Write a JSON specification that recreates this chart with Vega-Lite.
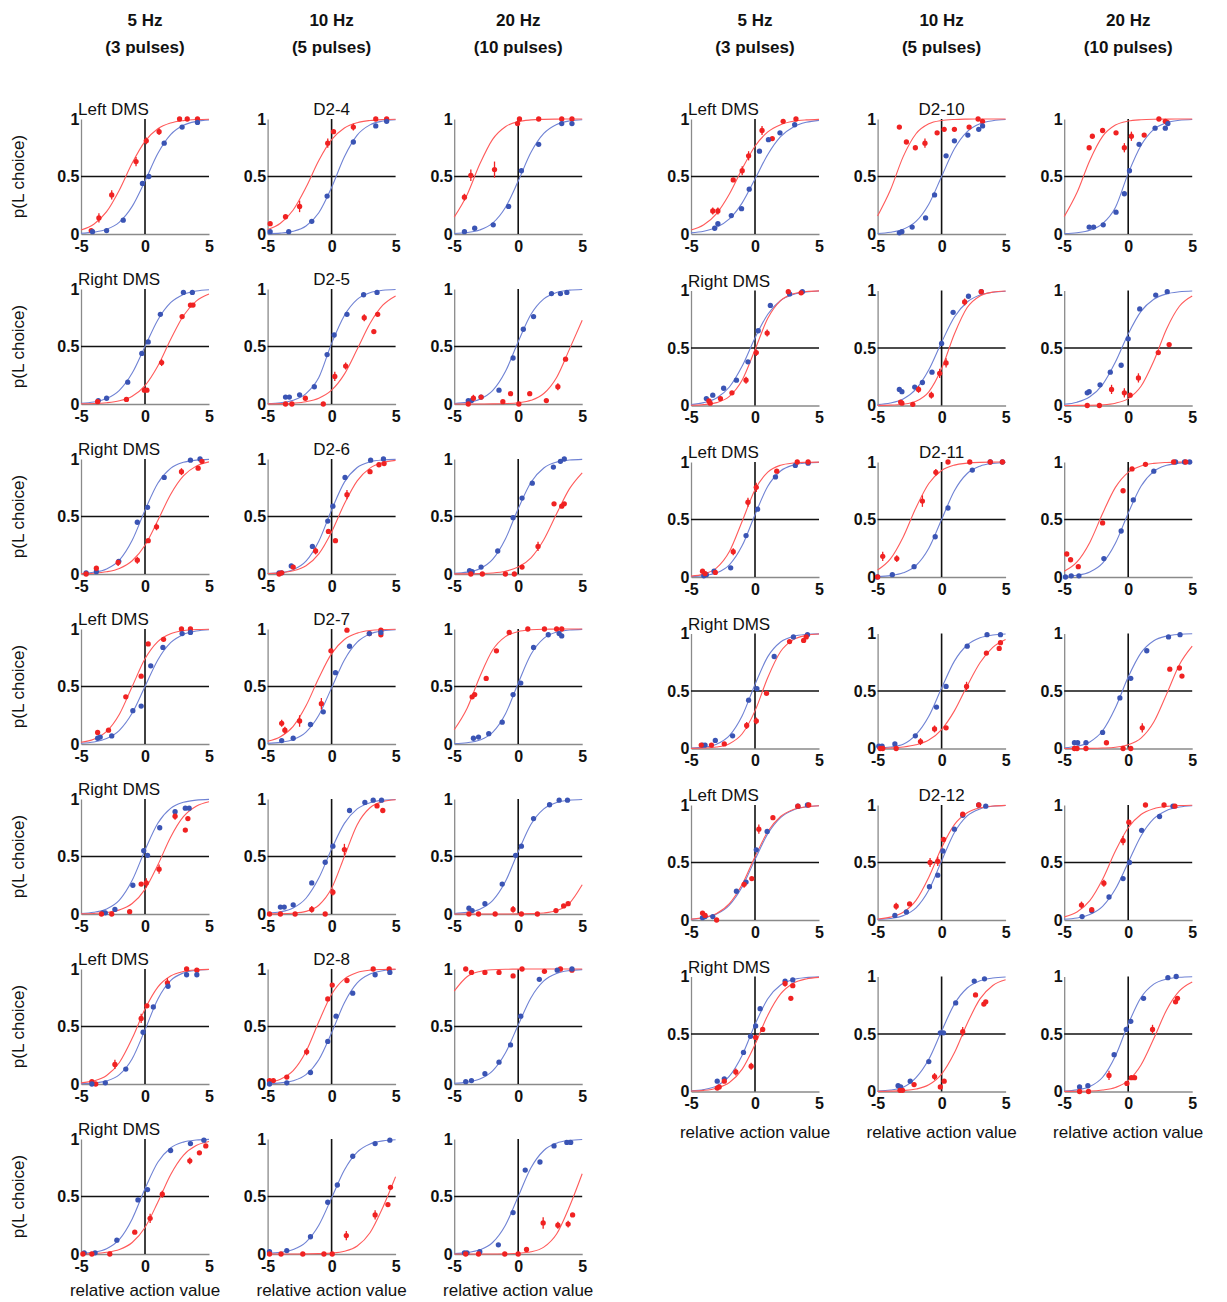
{
"$schema":"https://vega.github.io/schema/vega-lite/v6.json",
"background":"white",
"padding":{"left":10,"top":12,"right":4,"bottom":4},
"config":{
"view":{"stroke":null},
"font":"Liberation Sans",
"axis":{"grid":false,"domainColor":"#8a8a8a","domainWidth":1.3,"ticks":false,"labelFont":"Liberation Sans","labelFontSize":16,"labelFontWeight":"bold","labelColor":"#111","labelOverlap":false,"labelBound":false,"labelFlush":false,"labelPadding":2},
"header":{"labelFont":"Liberation Sans","titleFont":"Liberation Sans","labelColor":"#111"},
"text":{"font":"Liberation Sans","color":"#111"}
},
"datasets":{
"left":[
{"r":1,"c":1,"n":"Left DMS"},{"r":1,"c":2,"n":"D2-4"},{"r":2,"c":1,"n":"Right DMS"},{"r":2,"c":2,"n":"D2-5"},{"r":3,"c":1,"n":"Right DMS"},{"r":3,"c":2,"n":"D2-6"},{"r":4,"c":1,"n":"Left DMS"},{"r":4,"c":2,"n":"D2-7"},{"r":5,"c":1,"n":"Right DMS"},{"r":6,"c":1,"n":"Left DMS"},{"r":6,"c":2,"n":"D2-8"},{"r":7,"c":1,"n":"Right DMS"},
{"r":7,"c":1,"a":"relative action value"},{"r":7,"c":2,"a":"relative action value"},{"r":7,"c":3,"a":"relative action value"},
{"r":1,"c":1,"s":"b","x":-5,"f":0.006},{"r":1,"c":1,"s":"b","x":-4,"f":0.016},{"r":1,"c":1,"s":"b","x":-3,"f":0.041},{"r":1,"c":1,"s":"b","x":-2,"f":0.104},{"r":1,"c":1,"s":"b","x":-1,"f":0.24},{"r":1,"c":1,"s":"b","x":0,"f":0.46},{"r":1,"c":1,"s":"b","x":1,"f":0.7},{"r":1,"c":1,"s":"b","x":2,"f":0.864},{"r":1,"c":1,"s":"b","x":3,"f":0.945},{"r":1,"c":1,"s":"b","x":4,"f":0.979},{"r":1,"c":1,"s":"b","x":5,"f":0.992},
{"r":1,"c":1,"s":"r","x":-5,"f":0.035},{"r":1,"c":1,"s":"r","x":-4,"f":0.085},{"r":1,"c":1,"s":"r","x":-3,"f":0.194},{"r":1,"c":1,"s":"r","x":-2,"f":0.383},{"r":1,"c":1,"s":"r","x":-1,"f":0.617},{"r":1,"c":1,"s":"r","x":0,"f":0.806},{"r":1,"c":1,"s":"r","x":1,"f":0.915},{"r":1,"c":1,"s":"r","x":2,"f":0.965},{"r":1,"c":1,"s":"r","x":3,"f":0.986},{"r":1,"c":1,"s":"r","x":4,"f":0.995},{"r":1,"c":1,"s":"r","x":5,"f":0.998},
{"r":1,"c":1,"s":"r","x":-4.2,"y":0.03},{"r":1,"c":1,"s":"r","x":-3.6,"y":0.14,"e":0.04},{"r":1,"c":1,"s":"r","x":-2.6,"y":0.34,"e":0.04},{"r":1,"c":1,"s":"r","x":-0.7,"y":0.63,"e":0.04},{"r":1,"c":1,"s":"r","x":0.1,"y":0.81,"e":0.03},{"r":1,"c":1,"s":"r","x":1.1,"y":0.89,"e":0.03},{"r":1,"c":1,"s":"r","x":2.7,"y":1},{"r":1,"c":1,"s":"r","x":3.3,"y":1},{"r":1,"c":1,"s":"r","x":4.1,"y":1},
{"r":1,"c":1,"s":"b","x":-4.1,"y":0.02},{"r":1,"c":1,"s":"b","x":-3,"y":0.03},{"r":1,"c":1,"s":"b","x":-1.7,"y":0.12},{"r":1,"c":1,"s":"b","x":-0.2,"y":0.44},{"r":1,"c":1,"s":"b","x":0.3,"y":0.5},{"r":1,"c":1,"s":"b","x":1.5,"y":0.79},{"r":1,"c":1,"s":"b","x":2.9,"y":0.93},{"r":1,"c":1,"s":"b","x":4.1,"y":0.97},
{"r":1,"c":2,"s":"b","x":-5,"f":0.003},{"r":1,"c":2,"s":"b","x":-4,"f":0.008},{"r":1,"c":2,"s":"b","x":-3,"f":0.024},{"r":1,"c":2,"s":"b","x":-2,"f":0.07},{"r":1,"c":2,"s":"b","x":-1,"f":0.185},{"r":1,"c":2,"s":"b","x":0,"f":0.405},{"r":1,"c":2,"s":"b","x":1,"f":0.672},{"r":1,"c":2,"s":"b","x":2,"f":0.86},{"r":1,"c":2,"s":"b","x":3,"f":0.949},{"r":1,"c":2,"s":"b","x":4,"f":0.982},{"r":1,"c":2,"s":"b","x":5,"f":0.994},
{"r":1,"c":2,"s":"r","x":-5,"f":0.038},{"r":1,"c":2,"s":"r","x":-4,"f":0.093},{"r":1,"c":2,"s":"r","x":-3,"f":0.209},{"r":1,"c":2,"s":"r","x":-2,"f":0.406},{"r":1,"c":2,"s":"r","x":-1,"f":0.639},{"r":1,"c":2,"s":"r","x":0,"f":0.82},{"r":1,"c":2,"s":"r","x":1,"f":0.922},{"r":1,"c":2,"s":"r","x":2,"f":0.968},{"r":1,"c":2,"s":"r","x":3,"f":0.987},{"r":1,"c":2,"s":"r","x":4,"f":0.995},{"r":1,"c":2,"s":"r","x":5,"f":0.998},
{"r":1,"c":2,"s":"r","x":-4.8,"y":0.09},{"r":1,"c":2,"s":"r","x":-3.6,"y":0.15},{"r":1,"c":2,"s":"r","x":-2.5,"y":0.24,"e":0.05},{"r":1,"c":2,"s":"r","x":-0.3,"y":0.79,"e":0.04},{"r":1,"c":2,"s":"r","x":0.15,"y":0.89},{"r":1,"c":2,"s":"r","x":1.7,"y":0.93,"e":0.03},{"r":1,"c":2,"s":"r","x":3.45,"y":1},{"r":1,"c":2,"s":"r","x":4.3,"y":1},
{"r":1,"c":2,"s":"b","x":-4.8,"y":0.02},{"r":1,"c":2,"s":"b","x":-3.35,"y":0.02},{"r":1,"c":2,"s":"b","x":-1.55,"y":0.11},{"r":1,"c":2,"s":"b","x":-0.35,"y":0.33},{"r":1,"c":2,"s":"b","x":1.7,"y":0.8},{"r":1,"c":2,"s":"b","x":3.45,"y":0.94},{"r":1,"c":2,"s":"b","x":4.3,"y":0.98},
{"r":1,"c":3,"s":"b","x":-5,"f":0.004},{"r":1,"c":3,"s":"b","x":-4,"f":0.013},{"r":1,"c":3,"s":"b","x":-3,"f":0.035},{"r":1,"c":3,"s":"b","x":-2,"f":0.094},{"r":1,"c":3,"s":"b","x":-1,"f":0.23},{"r":1,"c":3,"s":"b","x":0,"f":0.46},{"r":1,"c":3,"s":"b","x":1,"f":0.71},{"r":1,"c":3,"s":"b","x":2,"f":0.874},{"r":1,"c":3,"s":"b","x":3,"f":0.952},{"r":1,"c":3,"s":"b","x":4,"f":0.983},{"r":1,"c":3,"s":"b","x":5,"f":0.994},
{"r":1,"c":3,"s":"r","x":-5,"f":0.147},{"r":1,"c":3,"s":"r","x":-4,"f":0.34},{"r":1,"c":3,"s":"r","x":-3,"f":0.608},{"r":1,"c":3,"s":"r","x":-2,"f":0.823},{"r":1,"c":3,"s":"r","x":-1,"f":0.933},{"r":1,"c":3,"s":"r","x":0,"f":0.977},{"r":1,"c":3,"s":"r","x":1,"f":0.992},{"r":1,"c":3,"s":"r","x":2,"f":0.997},{"r":1,"c":3,"s":"r","x":3,"f":0.999},{"r":1,"c":3,"s":"r","x":4,"f":1},{"r":1,"c":3,"s":"r","x":5,"f":1},
{"r":1,"c":3,"s":"r","x":-4.2,"y":0.32,"e":0.03},{"r":1,"c":3,"s":"r","x":-3.7,"y":0.51,"e":0.05},{"r":1,"c":3,"s":"r","x":-1.85,"y":0.56,"e":0.07},{"r":1,"c":3,"s":"r","x":-0.05,"y":0.96},{"r":1,"c":3,"s":"r","x":0.1,"y":1},{"r":1,"c":3,"s":"r","x":1.6,"y":1},{"r":1,"c":3,"s":"r","x":3.4,"y":1},{"r":1,"c":3,"s":"r","x":4.2,"y":1},
{"r":1,"c":3,"s":"b","x":-4.2,"y":0.02},{"r":1,"c":3,"s":"b","x":-3.4,"y":0.05},{"r":1,"c":3,"s":"b","x":-1.95,"y":0.08},{"r":1,"c":3,"s":"b","x":-0.75,"y":0.24},{"r":1,"c":3,"s":"b","x":0.25,"y":0.55},{"r":1,"c":3,"s":"b","x":1.6,"y":0.78},{"r":1,"c":3,"s":"b","x":3.4,"y":0.96},{"r":1,"c":3,"s":"b","x":4.2,"y":0.96},
{"r":2,"c":1,"s":"b","x":-5,"f":0.007},{"r":2,"c":1,"s":"b","x":-4,"f":0.018},{"r":2,"c":1,"s":"b","x":-3,"f":0.047},{"r":2,"c":1,"s":"b","x":-2,"f":0.119},{"r":2,"c":1,"s":"b","x":-1,"f":0.269},{"r":2,"c":1,"s":"b","x":0,"f":0.5},{"r":2,"c":1,"s":"b","x":1,"f":0.731},{"r":2,"c":1,"s":"b","x":2,"f":0.881},{"r":2,"c":1,"s":"b","x":3,"f":0.953},{"r":2,"c":1,"s":"b","x":4,"f":0.982},{"r":2,"c":1,"s":"b","x":5,"f":0.993},
{"r":2,"c":1,"s":"r","x":-5,"f":0.002},{"r":2,"c":1,"s":"r","x":-4,"f":0.004},{"r":2,"c":1,"s":"r","x":-3,"f":0.011},{"r":2,"c":1,"s":"r","x":-2,"f":0.028},{"r":2,"c":1,"s":"r","x":-1,"f":0.068},{"r":2,"c":1,"s":"r","x":0,"f":0.16},{"r":2,"c":1,"s":"r","x":1,"f":0.33},{"r":2,"c":1,"s":"r","x":2,"f":0.56},{"r":2,"c":1,"s":"r","x":3,"f":0.767},{"r":2,"c":1,"s":"r","x":4,"f":0.895},{"r":2,"c":1,"s":"r","x":5,"f":0.956},
{"r":2,"c":1,"s":"b","x":-3.65,"y":0.03},{"r":2,"c":1,"s":"b","x":-3,"y":0.05},{"r":2,"c":1,"s":"b","x":-1.35,"y":0.19},{"r":2,"c":1,"s":"b","x":-0.25,"y":0.44},{"r":2,"c":1,"s":"b","x":0.25,"y":0.54},{"r":2,"c":1,"s":"b","x":1.2,"y":0.78},{"r":2,"c":1,"s":"b","x":3,"y":0.97},{"r":2,"c":1,"s":"b","x":3.7,"y":0.97},
{"r":2,"c":1,"s":"r","x":-3.7,"y":0.02},{"r":2,"c":1,"s":"r","x":-1.45,"y":0.04},{"r":2,"c":1,"s":"r","x":-0.05,"y":0.12},{"r":2,"c":1,"s":"r","x":0.15,"y":0.12},{"r":2,"c":1,"s":"r","x":1.3,"y":0.36,"e":0.03},{"r":2,"c":1,"s":"r","x":2.9,"y":0.76},{"r":2,"c":1,"s":"r","x":3.55,"y":0.86},{"r":2,"c":1,"s":"r","x":3.75,"y":0.86},
{"r":2,"c":2,"s":"b","x":-5,"f":0.004},{"r":2,"c":2,"s":"b","x":-4,"f":0.011},{"r":2,"c":2,"s":"b","x":-3,"f":0.032},{"r":2,"c":2,"s":"b","x":-2,"f":0.09},{"r":2,"c":2,"s":"b","x":-1,"f":0.23},{"r":2,"c":2,"s":"b","x":0,"f":0.527},{"r":2,"c":2,"s":"b","x":1,"f":0.77},{"r":2,"c":2,"s":"b","x":2,"f":0.91},{"r":2,"c":2,"s":"b","x":3,"f":0.968},{"r":2,"c":2,"s":"b","x":4,"f":0.989},{"r":2,"c":2,"s":"b","x":5,"f":0.996},
{"r":2,"c":2,"s":"r","x":-5,"f":0.001},{"r":2,"c":2,"s":"r","x":-4,"f":0.003},{"r":2,"c":2,"s":"r","x":-3,"f":0.008},{"r":2,"c":2,"s":"r","x":-2,"f":0.02},{"r":2,"c":2,"s":"r","x":-1,"f":0.05},{"r":2,"c":2,"s":"r","x":0,"f":0.12},{"r":2,"c":2,"s":"r","x":1,"f":0.26},{"r":2,"c":2,"s":"r","x":2,"f":0.476},{"r":2,"c":2,"s":"r","x":3,"f":0.7},{"r":2,"c":2,"s":"r","x":4,"f":0.859},{"r":2,"c":2,"s":"r","x":5,"f":0.94},
{"r":2,"c":2,"s":"b","x":-3.6,"y":0.06},{"r":2,"c":2,"s":"b","x":-3.3,"y":0.06},{"r":2,"c":2,"s":"b","x":-2.5,"y":0.08},{"r":2,"c":2,"s":"b","x":-1.35,"y":0.15},{"r":2,"c":2,"s":"b","x":-0.35,"y":0.43},{"r":2,"c":2,"s":"b","x":0.2,"y":0.6},{"r":2,"c":2,"s":"b","x":1.2,"y":0.78},{"r":2,"c":2,"s":"b","x":2.5,"y":0.95},{"r":2,"c":2,"s":"b","x":3.55,"y":0.97},
{"r":2,"c":2,"s":"r","x":-3.6,"y":0},{"r":2,"c":2,"s":"r","x":-3.1,"y":0},{"r":2,"c":2,"s":"r","x":-2.05,"y":0.05},{"r":2,"c":2,"s":"r","x":-0.65,"y":0},{"r":2,"c":2,"s":"r","x":0.25,"y":0.24,"e":0.04},{"r":2,"c":2,"s":"r","x":1.1,"y":0.33,"e":0.03},{"r":2,"c":2,"s":"r","x":2.55,"y":0.75,"e":0.03},{"r":2,"c":2,"s":"r","x":3.3,"y":0.63},{"r":2,"c":2,"s":"r","x":3.6,"y":0.78},
{"r":2,"c":3,"s":"b","x":-5,"f":0.005},{"r":2,"c":3,"s":"b","x":-4,"f":0.014},{"r":2,"c":3,"s":"b","x":-3,"f":0.042},{"r":2,"c":3,"s":"b","x":-2,"f":0.116},{"r":2,"c":3,"s":"b","x":-1,"f":0.282},{"r":2,"c":3,"s":"b","x":0,"f":0.541},{"r":2,"c":3,"s":"b","x":1,"f":0.78},{"r":2,"c":3,"s":"b","x":2,"f":0.914},{"r":2,"c":3,"s":"b","x":3,"f":0.97},{"r":2,"c":3,"s":"b","x":4,"f":0.99},{"r":2,"c":3,"s":"b","x":5,"f":0.996},
{"r":2,"c":3,"s":"r","x":-5,"f":0},{"r":2,"c":3,"s":"r","x":-4,"f":0},{"r":2,"c":3,"s":"r","x":-3,"f":0},{"r":2,"c":3,"s":"r","x":-2,"f":0.001},{"r":2,"c":3,"s":"r","x":-1,"f":0.004},{"r":2,"c":3,"s":"r","x":0,"f":0.011},{"r":2,"c":3,"s":"r","x":1,"f":0.032},{"r":2,"c":3,"s":"r","x":2,"f":0.091},{"r":2,"c":3,"s":"r","x":3,"f":0.231},{"r":2,"c":3,"s":"r","x":4,"f":0.475},{"r":2,"c":3,"s":"r","x":5,"f":0.729},
{"r":2,"c":3,"s":"b","x":-3.9,"y":0.03},{"r":2,"c":3,"s":"b","x":-3.65,"y":0.03},{"r":2,"c":3,"s":"b","x":-2.9,"y":0.06},{"r":2,"c":3,"s":"b","x":-1.5,"y":0.12},{"r":2,"c":3,"s":"b","x":-0.4,"y":0.4},{"r":2,"c":3,"s":"b","x":0.4,"y":0.65},{"r":2,"c":3,"s":"b","x":1.2,"y":0.76},{"r":2,"c":3,"s":"b","x":2.6,"y":0.96},{"r":2,"c":3,"s":"b","x":3.3,"y":0.96},{"r":2,"c":3,"s":"b","x":3.8,"y":0.97},
{"r":2,"c":3,"s":"r","x":-3.9,"y":0},{"r":2,"c":3,"s":"r","x":-3.5,"y":0.05,"e":0.03},{"r":2,"c":3,"s":"r","x":-2.9,"y":0.06},{"r":2,"c":3,"s":"r","x":-1.2,"y":0.02},{"r":2,"c":3,"s":"r","x":-0.6,"y":0.09},{"r":2,"c":3,"s":"r","x":0.05,"y":0},{"r":2,"c":3,"s":"r","x":0.9,"y":0.09},{"r":2,"c":3,"s":"r","x":2.2,"y":0.03},{"r":2,"c":3,"s":"r","x":3.1,"y":0.15,"e":0.03},{"r":2,"c":3,"s":"r","x":3.7,"y":0.39},
{"r":3,"c":1,"s":"b","x":-5,"f":0.005},{"r":3,"c":1,"s":"b","x":-4,"f":0.015},{"r":3,"c":1,"s":"b","x":-3,"f":0.044},{"r":3,"c":1,"s":"b","x":-2,"f":0.121},{"r":3,"c":1,"s":"b","x":-1,"f":0.293},{"r":3,"c":1,"s":"b","x":0,"f":0.555},{"r":3,"c":1,"s":"b","x":1,"f":0.789},{"r":3,"c":1,"s":"b","x":2,"f":0.918},{"r":3,"c":1,"s":"b","x":3,"f":0.971},{"r":3,"c":1,"s":"b","x":4,"f":0.99},{"r":3,"c":1,"s":"b","x":5,"f":0.997},
{"r":3,"c":1,"s":"r","x":-5,"f":0.003},{"r":3,"c":1,"s":"r","x":-4,"f":0.007},{"r":3,"c":1,"s":"r","x":-3,"f":0.019},{"r":3,"c":1,"s":"r","x":-2,"f":0.048},{"r":3,"c":1,"s":"r","x":-1,"f":0.115},{"r":3,"c":1,"s":"r","x":0,"f":0.25},{"r":3,"c":1,"s":"r","x":1,"f":0.465},{"r":3,"c":1,"s":"r","x":2,"f":0.692},{"r":3,"c":1,"s":"r","x":3,"f":0.853},{"r":3,"c":1,"s":"r","x":4,"f":0.938},{"r":3,"c":1,"s":"r","x":5,"f":0.975},
{"r":3,"c":1,"s":"b","x":-4.6,"y":0.01},{"r":3,"c":1,"s":"b","x":-3.8,"y":0.02},{"r":3,"c":1,"s":"b","x":-2.05,"y":0.11},{"r":3,"c":1,"s":"b","x":-0.6,"y":0.45},{"r":3,"c":1,"s":"b","x":0.2,"y":0.58},{"r":3,"c":1,"s":"b","x":1.5,"y":0.84},{"r":3,"c":1,"s":"b","x":3.55,"y":0.99},{"r":3,"c":1,"s":"b","x":4.3,"y":1},
{"r":3,"c":1,"s":"r","x":-4.6,"y":0},{"r":3,"c":1,"s":"r","x":-3.8,"y":0.05},{"r":3,"c":1,"s":"r","x":-2.1,"y":0.1,"e":0.03},{"r":3,"c":1,"s":"r","x":-0.6,"y":0.12,"e":0.03},{"r":3,"c":1,"s":"r","x":0.25,"y":0.29},{"r":3,"c":1,"s":"r","x":0.9,"y":0.41,"e":0.03},{"r":3,"c":1,"s":"r","x":2.85,"y":0.89,"e":0.03},{"r":3,"c":1,"s":"r","x":4.15,"y":0.92},{"r":3,"c":1,"s":"r","x":4.45,"y":0.98},
{"r":3,"c":2,"s":"b","x":-5,"f":0.004},{"r":3,"c":2,"s":"b","x":-4,"f":0.012},{"r":3,"c":2,"s":"b","x":-3,"f":0.038},{"r":3,"c":2,"s":"b","x":-2,"f":0.112},{"r":3,"c":2,"s":"b","x":-1,"f":0.285},{"r":3,"c":2,"s":"b","x":0,"f":0.557},{"r":3,"c":2,"s":"b","x":1,"f":0.799},{"r":3,"c":2,"s":"b","x":2,"f":0.926},{"r":3,"c":2,"s":"b","x":3,"f":0.975},{"r":3,"c":2,"s":"b","x":4,"f":0.992},{"r":3,"c":2,"s":"b","x":5,"f":0.997},
{"r":3,"c":2,"s":"r","x":-5,"f":0.004},{"r":3,"c":2,"s":"r","x":-4,"f":0.01},{"r":3,"c":2,"s":"r","x":-3,"f":0.028},{"r":3,"c":2,"s":"r","x":-2,"f":0.072},{"r":3,"c":2,"s":"r","x":-1,"f":0.175},{"r":3,"c":2,"s":"r","x":0,"f":0.366},{"r":3,"c":2,"s":"r","x":1,"f":0.611},{"r":3,"c":2,"s":"r","x":2,"f":0.81},{"r":3,"c":2,"s":"r","x":3,"f":0.921},{"r":3,"c":2,"s":"r","x":4,"f":0.969},{"r":3,"c":2,"s":"r","x":5,"f":0.988},
{"r":3,"c":2,"s":"b","x":-4.1,"y":0.01},{"r":3,"c":2,"s":"b","x":-3.9,"y":0.01},{"r":3,"c":2,"s":"b","x":-3.15,"y":0.07},{"r":3,"c":2,"s":"b","x":-1.5,"y":0.24},{"r":3,"c":2,"s":"b","x":-0.3,"y":0.46},{"r":3,"c":2,"s":"b","x":0.1,"y":0.59},{"r":3,"c":2,"s":"b","x":1.05,"y":0.84},{"r":3,"c":2,"s":"b","x":3.05,"y":0.99},{"r":3,"c":2,"s":"b","x":4.05,"y":1},
{"r":3,"c":2,"s":"r","x":-4.1,"y":0},{"r":3,"c":2,"s":"r","x":-3.9,"y":0.01},{"r":3,"c":2,"s":"r","x":-3,"y":0.06},{"r":3,"c":2,"s":"r","x":-1.25,"y":0.2,"e":0.03},{"r":3,"c":2,"s":"r","x":-0.25,"y":0.37},{"r":3,"c":2,"s":"r","x":0.3,"y":0.29},{"r":3,"c":2,"s":"r","x":1.2,"y":0.69,"e":0.04},{"r":3,"c":2,"s":"r","x":3,"y":0.89},{"r":3,"c":2,"s":"r","x":3.7,"y":0.95},{"r":3,"c":2,"s":"r","x":4.1,"y":0.96},
{"r":3,"c":3,"s":"b","x":-5,"f":0.005},{"r":3,"c":3,"s":"b","x":-4,"f":0.016},{"r":3,"c":3,"s":"b","x":-3,"f":0.046},{"r":3,"c":3,"s":"b","x":-2,"f":0.127},{"r":3,"c":3,"s":"b","x":-1,"f":0.305},{"r":3,"c":3,"s":"b","x":0,"f":0.568},{"r":3,"c":3,"s":"b","x":1,"f":0.798},{"r":3,"c":3,"s":"b","x":2,"f":0.922},{"r":3,"c":3,"s":"b","x":3,"f":0.973},{"r":3,"c":3,"s":"b","x":4,"f":0.991},{"r":3,"c":3,"s":"b","x":5,"f":0.997},
{"r":3,"c":3,"s":"r","x":-5,"f":0.001},{"r":3,"c":3,"s":"r","x":-4,"f":0.001},{"r":3,"c":3,"s":"r","x":-3,"f":0.004},{"r":3,"c":3,"s":"r","x":-2,"f":0.009},{"r":3,"c":3,"s":"r","x":-1,"f":0.024},{"r":3,"c":3,"s":"r","x":0,"f":0.06},{"r":3,"c":3,"s":"r","x":1,"f":0.141},{"r":3,"c":3,"s":"r","x":2,"f":0.298},{"r":3,"c":3,"s":"r","x":3,"f":0.524},{"r":3,"c":3,"s":"r","x":4,"f":0.74},{"r":3,"c":3,"s":"r","x":5,"f":0.88},
{"r":3,"c":3,"s":"b","x":-3.8,"y":0.03},{"r":3,"c":3,"s":"b","x":-3.6,"y":0.02},{"r":3,"c":3,"s":"b","x":-2.9,"y":0.06},{"r":3,"c":3,"s":"b","x":-1.6,"y":0.2},{"r":3,"c":3,"s":"b","x":-0.4,"y":0.49},{"r":3,"c":3,"s":"b","x":0.3,"y":0.66},{"r":3,"c":3,"s":"b","x":1.1,"y":0.79},{"r":3,"c":3,"s":"b","x":2.75,"y":0.93},{"r":3,"c":3,"s":"b","x":3.3,"y":0.98},{"r":3,"c":3,"s":"b","x":3.6,"y":1},
{"r":3,"c":3,"s":"r","x":-3.7,"y":0},{"r":3,"c":3,"s":"r","x":-2.8,"y":0},{"r":3,"c":3,"s":"r","x":-1,"y":0},{"r":3,"c":3,"s":"r","x":-0.3,"y":0},{"r":3,"c":3,"s":"r","x":0.3,"y":0.06},{"r":3,"c":3,"s":"r","x":1.55,"y":0.24,"e":0.04},{"r":3,"c":3,"s":"r","x":2.8,"y":0.61},{"r":3,"c":3,"s":"r","x":3.4,"y":0.59},{"r":3,"c":3,"s":"r","x":3.6,"y":0.61},
{"r":4,"c":1,"s":"b","x":-5,"f":0.007},{"r":4,"c":1,"s":"b","x":-4,"f":0.018},{"r":4,"c":1,"s":"b","x":-3,"f":0.047},{"r":4,"c":1,"s":"b","x":-2,"f":0.119},{"r":4,"c":1,"s":"b","x":-1,"f":0.269},{"r":4,"c":1,"s":"b","x":0,"f":0.5},{"r":4,"c":1,"s":"b","x":1,"f":0.731},{"r":4,"c":1,"s":"b","x":2,"f":0.881},{"r":4,"c":1,"s":"b","x":3,"f":0.953},{"r":4,"c":1,"s":"b","x":4,"f":0.982},{"r":4,"c":1,"s":"b","x":5,"f":0.993},
{"r":4,"c":1,"s":"r","x":-5,"f":0.015},{"r":4,"c":1,"s":"r","x":-4,"f":0.041},{"r":4,"c":1,"s":"r","x":-3,"f":0.109},{"r":4,"c":1,"s":"r","x":-2,"f":0.259},{"r":4,"c":1,"s":"r","x":-1,"f":0.5},{"r":4,"c":1,"s":"r","x":0,"f":0.741},{"r":4,"c":1,"s":"r","x":1,"f":0.891},{"r":4,"c":1,"s":"r","x":2,"f":0.959},{"r":4,"c":1,"s":"r","x":3,"f":0.985},{"r":4,"c":1,"s":"r","x":4,"f":0.995},{"r":4,"c":1,"s":"r","x":5,"f":0.998},
{"r":4,"c":1,"s":"r","x":-3.7,"y":0.1},{"r":4,"c":1,"s":"r","x":-2.85,"y":0.12},{"r":4,"c":1,"s":"r","x":-1.5,"y":0.41},{"r":4,"c":1,"s":"r","x":-0.3,"y":0.59},{"r":4,"c":1,"s":"r","x":0.25,"y":0.87},{"r":4,"c":1,"s":"r","x":1.45,"y":0.91},{"r":4,"c":1,"s":"r","x":2.85,"y":1},{"r":4,"c":1,"s":"r","x":3.55,"y":1},
{"r":4,"c":1,"s":"b","x":-3.7,"y":0.05},{"r":4,"c":1,"s":"b","x":-3.5,"y":0.06},{"r":4,"c":1,"s":"b","x":-2.6,"y":0.07},{"r":4,"c":1,"s":"b","x":-0.95,"y":0.29},{"r":4,"c":1,"s":"b","x":-0.3,"y":0.33},{"r":4,"c":1,"s":"b","x":0.45,"y":0.68},{"r":4,"c":1,"s":"b","x":1.4,"y":0.84},{"r":4,"c":1,"s":"b","x":2.9,"y":0.96},{"r":4,"c":1,"s":"b","x":3.55,"y":0.97},
{"r":4,"c":2,"s":"b","x":-5,"f":0.005},{"r":4,"c":2,"s":"b","x":-4,"f":0.014},{"r":4,"c":2,"s":"b","x":-3,"f":0.039},{"r":4,"c":2,"s":"b","x":-2,"f":0.104},{"r":4,"c":2,"s":"b","x":-1,"f":0.25},{"r":4,"c":2,"s":"b","x":0,"f":0.488},{"r":4,"c":2,"s":"b","x":1,"f":0.731},{"r":4,"c":2,"s":"b","x":2,"f":0.886},{"r":4,"c":2,"s":"b","x":3,"f":0.957},{"r":4,"c":2,"s":"b","x":4,"f":0.984},{"r":4,"c":2,"s":"b","x":5,"f":0.994},
{"r":4,"c":2,"s":"r","x":-5,"f":0.024},{"r":4,"c":2,"s":"r","x":-4,"f":0.063},{"r":4,"c":2,"s":"r","x":-3,"f":0.154},{"r":4,"c":2,"s":"r","x":-2,"f":0.332},{"r":4,"c":2,"s":"r","x":-1,"f":0.574},{"r":4,"c":2,"s":"r","x":0,"f":0.786},{"r":4,"c":2,"s":"r","x":1,"f":0.909},{"r":4,"c":2,"s":"r","x":2,"f":0.964},{"r":4,"c":2,"s":"r","x":3,"f":0.987},{"r":4,"c":2,"s":"r","x":4,"f":0.995},{"r":4,"c":2,"s":"r","x":5,"f":0.998},
{"r":4,"c":2,"s":"r","x":-3.9,"y":0.18,"e":0.03},{"r":4,"c":2,"s":"r","x":-3.65,"y":0.12,"e":0.03},{"r":4,"c":2,"s":"r","x":-2.5,"y":0.2,"e":0.05},{"r":4,"c":2,"s":"r","x":-0.8,"y":0.35,"e":0.05},{"r":4,"c":2,"s":"r","x":-0.05,"y":0.81},{"r":4,"c":2,"s":"r","x":1.2,"y":0.99},{"r":4,"c":2,"s":"r","x":2.95,"y":0.96},{"r":4,"c":2,"s":"r","x":3.85,"y":0.99},{"r":4,"c":2,"s":"r","x":3.85,"y":0.95},
{"r":4,"c":2,"s":"b","x":-3.9,"y":0.03},{"r":4,"c":2,"s":"b","x":-3,"y":0.05},{"r":4,"c":2,"s":"b","x":-1.65,"y":0.17},{"r":4,"c":2,"s":"b","x":-0.65,"y":0.28},{"r":4,"c":2,"s":"b","x":0.3,"y":0.62},{"r":4,"c":2,"s":"b","x":1.4,"y":0.85},{"r":4,"c":2,"s":"b","x":2.95,"y":0.96},{"r":4,"c":2,"s":"b","x":3.85,"y":0.97},
{"r":4,"c":3,"s":"b","x":-5,"f":0.004},{"r":4,"c":3,"s":"b","x":-4,"f":0.011},{"r":4,"c":3,"s":"b","x":-3,"f":0.034},{"r":4,"c":3,"s":"b","x":-2,"f":0.101},{"r":4,"c":3,"s":"b","x":-1,"f":0.261},{"r":4,"c":3,"s":"b","x":0,"f":0.529},{"r":4,"c":3,"s":"b","x":1,"f":0.78},{"r":4,"c":3,"s":"b","x":2,"f":0.918},{"r":4,"c":3,"s":"b","x":3,"f":0.973},{"r":4,"c":3,"s":"b","x":4,"f":0.991},{"r":4,"c":3,"s":"b","x":5,"f":0.997},
{"r":4,"c":3,"s":"r","x":-5,"f":0.124},{"r":4,"c":3,"s":"r","x":-4,"f":0.309},{"r":4,"c":3,"s":"r","x":-3,"f":0.585},{"r":4,"c":3,"s":"r","x":-2,"f":0.817},{"r":4,"c":3,"s":"r","x":-1,"f":0.934},{"r":4,"c":3,"s":"r","x":0,"f":0.978},{"r":4,"c":3,"s":"r","x":1,"f":0.993},{"r":4,"c":3,"s":"r","x":2,"f":0.998},{"r":4,"c":3,"s":"r","x":3,"f":0.999},{"r":4,"c":3,"s":"r","x":4,"f":1},{"r":4,"c":3,"s":"r","x":5,"f":1},
{"r":4,"c":3,"s":"r","x":-3.6,"y":0.41},{"r":4,"c":3,"s":"r","x":-3.4,"y":0.43},{"r":4,"c":3,"s":"r","x":-2.5,"y":0.57},{"r":4,"c":3,"s":"r","x":-1.7,"y":0.81},{"r":4,"c":3,"s":"r","x":-0.7,"y":0.97},{"r":4,"c":3,"s":"r","x":0.75,"y":1},{"r":4,"c":3,"s":"r","x":2.05,"y":1},{"r":4,"c":3,"s":"r","x":3,"y":1},{"r":4,"c":3,"s":"r","x":3.4,"y":1},
{"r":4,"c":3,"s":"b","x":-3.5,"y":0.05},{"r":4,"c":3,"s":"b","x":-3.1,"y":0.06},{"r":4,"c":3,"s":"b","x":-2.3,"y":0.09},{"r":4,"c":3,"s":"b","x":-1.25,"y":0.19},{"r":4,"c":3,"s":"b","x":-0.4,"y":0.43},{"r":4,"c":3,"s":"b","x":0.2,"y":0.53},{"r":4,"c":3,"s":"b","x":1.2,"y":0.84},{"r":4,"c":3,"s":"b","x":2.35,"y":0.95},{"r":4,"c":3,"s":"b","x":3.2,"y":0.96},{"r":4,"c":3,"s":"b","x":3.4,"y":0.94},
{"r":5,"c":1,"s":"b","x":-5,"f":0.005},{"r":5,"c":1,"s":"b","x":-4,"f":0.015},{"r":5,"c":1,"s":"b","x":-3,"f":0.044},{"r":5,"c":1,"s":"b","x":-2,"f":0.121},{"r":5,"c":1,"s":"b","x":-1,"f":0.293},{"r":5,"c":1,"s":"b","x":0,"f":0.555},{"r":5,"c":1,"s":"b","x":1,"f":0.789},{"r":5,"c":1,"s":"b","x":2,"f":0.918},{"r":5,"c":1,"s":"b","x":3,"f":0.971},{"r":5,"c":1,"s":"b","x":4,"f":0.99},{"r":5,"c":1,"s":"b","x":5,"f":0.997},
{"r":5,"c":1,"s":"r","x":-5,"f":0.002},{"r":5,"c":1,"s":"r","x":-4,"f":0.005},{"r":5,"c":1,"s":"r","x":-3,"f":0.013},{"r":5,"c":1,"s":"r","x":-2,"f":0.036},{"r":5,"c":1,"s":"r","x":-1,"f":0.091},{"r":5,"c":1,"s":"r","x":0,"f":0.214},{"r":5,"c":1,"s":"r","x":1,"f":0.426},{"r":5,"c":1,"s":"r","x":2,"f":0.668},{"r":5,"c":1,"s":"r","x":3,"f":0.846},{"r":5,"c":1,"s":"r","x":4,"f":0.937},{"r":5,"c":1,"s":"r","x":5,"f":0.976},
{"r":5,"c":1,"s":"b","x":-3.3,"y":0.01},{"r":5,"c":1,"s":"b","x":-3.1,"y":0.01},{"r":5,"c":1,"s":"b","x":-2.35,"y":0.04},{"r":5,"c":1,"s":"b","x":-0.95,"y":0.25},{"r":5,"c":1,"s":"b","x":-0.1,"y":0.55},{"r":5,"c":1,"s":"b","x":0.2,"y":0.51},{"r":5,"c":1,"s":"b","x":1.15,"y":0.75},{"r":5,"c":1,"s":"b","x":2.35,"y":0.89},{"r":5,"c":1,"s":"b","x":3.15,"y":0.92},{"r":5,"c":1,"s":"b","x":3.45,"y":0.92},
{"r":5,"c":1,"s":"r","x":-3.4,"y":0},{"r":5,"c":1,"s":"r","x":-2.6,"y":0},{"r":5,"c":1,"s":"r","x":-1.2,"y":0.02},{"r":5,"c":1,"s":"r","x":-0.3,"y":0.26},{"r":5,"c":1,"s":"r","x":0.1,"y":0.27,"e":0.04},{"r":5,"c":1,"s":"r","x":1.1,"y":0.39,"e":0.04},{"r":5,"c":1,"s":"r","x":2.35,"y":0.85,"e":0.03},{"r":5,"c":1,"s":"r","x":3.15,"y":0.73},{"r":5,"c":1,"s":"r","x":3.35,"y":0.83},
{"r":5,"c":2,"s":"b","x":-5,"f":0.007},{"r":5,"c":2,"s":"b","x":-4,"f":0.019},{"r":5,"c":2,"s":"b","x":-3,"f":0.053},{"r":5,"c":2,"s":"b","x":-2,"f":0.137},{"r":5,"c":2,"s":"b","x":-1,"f":0.312},{"r":5,"c":2,"s":"b","x":0,"f":0.565},{"r":5,"c":2,"s":"b","x":1,"f":0.788},{"r":5,"c":2,"s":"b","x":2,"f":0.914},{"r":5,"c":2,"s":"b","x":3,"f":0.968},{"r":5,"c":2,"s":"b","x":4,"f":0.989},{"r":5,"c":2,"s":"b","x":5,"f":0.996},
{"r":5,"c":2,"s":"r","x":-5,"f":0.001},{"r":5,"c":2,"s":"r","x":-4,"f":0.002},{"r":5,"c":2,"s":"r","x":-3,"f":0.007},{"r":5,"c":2,"s":"r","x":-2,"f":0.023},{"r":5,"c":2,"s":"r","x":-1,"f":0.076},{"r":5,"c":2,"s":"r","x":0,"f":0.223},{"r":5,"c":2,"s":"r","x":1,"f":0.5},{"r":5,"c":2,"s":"r","x":2,"f":0.777},{"r":5,"c":2,"s":"r","x":3,"f":0.924},{"r":5,"c":2,"s":"r","x":4,"f":0.977},{"r":5,"c":2,"s":"r","x":5,"f":0.993},
{"r":5,"c":2,"s":"b","x":-4,"y":0.06},{"r":5,"c":2,"s":"b","x":-3.7,"y":0.06},{"r":5,"c":2,"s":"b","x":-3,"y":0.08},{"r":5,"c":2,"s":"b","x":-1.55,"y":0.27},{"r":5,"c":2,"s":"b","x":-0.5,"y":0.45},{"r":5,"c":2,"s":"b","x":0.1,"y":0.59},{"r":5,"c":2,"s":"b","x":1.4,"y":0.9},{"r":5,"c":2,"s":"b","x":2.6,"y":0.97},{"r":5,"c":2,"s":"b","x":3.25,"y":0.99},{"r":5,"c":2,"s":"b","x":3.9,"y":0.99},
{"r":5,"c":2,"s":"r","x":-4.85,"y":0},{"r":5,"c":2,"s":"r","x":-4,"y":0},{"r":5,"c":2,"s":"r","x":-2.85,"y":0},{"r":5,"c":2,"s":"r","x":-1.55,"y":0.04,"e":0.03},{"r":5,"c":2,"s":"r","x":-0.5,"y":0},{"r":5,"c":2,"s":"r","x":0.1,"y":0.19,"e":0.03},{"r":5,"c":2,"s":"r","x":1,"y":0.56,"e":0.05},{"r":5,"c":2,"s":"r","x":3.55,"y":0.94},{"r":5,"c":2,"s":"r","x":4,"y":0.9},
{"r":5,"c":3,"s":"b","x":-5,"f":0.005},{"r":5,"c":3,"s":"b","x":-4,"f":0.014},{"r":5,"c":3,"s":"b","x":-3,"f":0.042},{"r":5,"c":3,"s":"b","x":-2,"f":0.116},{"r":5,"c":3,"s":"b","x":-1,"f":0.282},{"r":5,"c":3,"s":"b","x":0,"f":0.541},{"r":5,"c":3,"s":"b","x":1,"f":0.78},{"r":5,"c":3,"s":"b","x":2,"f":0.914},{"r":5,"c":3,"s":"b","x":3,"f":0.97},{"r":5,"c":3,"s":"b","x":4,"f":0.99},{"r":5,"c":3,"s":"b","x":5,"f":0.996},
{"r":5,"c":3,"s":"r","x":-5,"f":0},{"r":5,"c":3,"s":"r","x":-4,"f":0},{"r":5,"c":3,"s":"r","x":-3,"f":0},{"r":5,"c":3,"s":"r","x":-2,"f":0},{"r":5,"c":3,"s":"r","x":-1,"f":0},{"r":5,"c":3,"s":"r","x":0,"f":0.001},{"r":5,"c":3,"s":"r","x":1,"f":0.003},{"r":5,"c":3,"s":"r","x":2,"f":0.009},{"r":5,"c":3,"s":"r","x":3,"f":0.03},{"r":5,"c":3,"s":"r","x":4,"f":0.093},{"r":5,"c":3,"s":"r","x":5,"f":0.254},
{"r":5,"c":3,"s":"b","x":-3.85,"y":0.05},{"r":5,"c":3,"s":"b","x":-3.6,"y":0.03},{"r":5,"c":3,"s":"b","x":-2.6,"y":0.09},{"r":5,"c":3,"s":"b","x":-1.25,"y":0.26},{"r":5,"c":3,"s":"b","x":-0.2,"y":0.51},{"r":5,"c":3,"s":"b","x":0.25,"y":0.59},{"r":5,"c":3,"s":"b","x":1.2,"y":0.83},{"r":5,"c":3,"s":"b","x":2.45,"y":0.95},{"r":5,"c":3,"s":"b","x":3.2,"y":0.99},{"r":5,"c":3,"s":"b","x":3.85,"y":0.99},
{"r":5,"c":3,"s":"r","x":-3.85,"y":0},{"r":5,"c":3,"s":"r","x":-3.1,"y":0},{"r":5,"c":3,"s":"r","x":-1.8,"y":0},{"r":5,"c":3,"s":"r","x":-0.4,"y":0.04,"e":0.03},{"r":5,"c":3,"s":"r","x":0.25,"y":0},{"r":5,"c":3,"s":"r","x":1.5,"y":0},{"r":5,"c":3,"s":"r","x":2.95,"y":0.03},{"r":5,"c":3,"s":"r","x":3.55,"y":0.07},{"r":5,"c":3,"s":"r","x":3.9,"y":0.09},
{"r":6,"c":1,"s":"b","x":-5,"f":0.003},{"r":6,"c":1,"s":"b","x":-4,"f":0.009},{"r":6,"c":1,"s":"b","x":-3,"f":0.027},{"r":6,"c":1,"s":"b","x":-2,"f":0.082},{"r":6,"c":1,"s":"b","x":-1,"f":0.22},{"r":6,"c":1,"s":"b","x":0,"f":0.471},{"r":6,"c":1,"s":"b","x":1,"f":0.738},{"r":6,"c":1,"s":"b","x":2,"f":0.899},{"r":6,"c":1,"s":"b","x":3,"f":0.966},{"r":6,"c":1,"s":"b","x":4,"f":0.989},{"r":6,"c":1,"s":"b","x":5,"f":0.996},
{"r":6,"c":1,"s":"r","x":-5,"f":0.01},{"r":6,"c":1,"s":"r","x":-4,"f":0.027},{"r":6,"c":1,"s":"r","x":-3,"f":0.074},{"r":6,"c":1,"s":"r","x":-2,"f":0.187},{"r":6,"c":1,"s":"r","x":-1,"f":0.397},{"r":6,"c":1,"s":"r","x":0,"f":0.652},{"r":6,"c":1,"s":"r","x":1,"f":0.843},{"r":6,"c":1,"s":"r","x":2,"f":0.939},{"r":6,"c":1,"s":"r","x":3,"f":0.978},{"r":6,"c":1,"s":"r","x":4,"f":0.992},{"r":6,"c":1,"s":"r","x":5,"f":0.997},
{"r":6,"c":1,"s":"r","x":-4.15,"y":0.02},{"r":6,"c":1,"s":"r","x":-3.85,"y":0},{"r":6,"c":1,"s":"r","x":-2.35,"y":0.17,"e":0.04},{"r":6,"c":1,"s":"r","x":-0.3,"y":0.57,"e":0.04},{"r":6,"c":1,"s":"r","x":0.15,"y":0.68},{"r":6,"c":1,"s":"r","x":1.75,"y":0.88,"e":0.04},{"r":6,"c":1,"s":"r","x":3.25,"y":1},{"r":6,"c":1,"s":"r","x":4.05,"y":0.99},
{"r":6,"c":1,"s":"b","x":-4.15,"y":0},{"r":6,"c":1,"s":"b","x":-3.1,"y":0.01},{"r":6,"c":1,"s":"b","x":-1.5,"y":0.13},{"r":6,"c":1,"s":"b","x":-0.15,"y":0.45},{"r":6,"c":1,"s":"b","x":0.65,"y":0.67},{"r":6,"c":1,"s":"b","x":1.8,"y":0.85},{"r":6,"c":1,"s":"b","x":3.25,"y":0.95},{"r":6,"c":1,"s":"b","x":4.05,"y":0.95},
{"r":6,"c":2,"s":"b","x":-5,"f":0.003},{"r":6,"c":2,"s":"b","x":-4,"f":0.01},{"r":6,"c":2,"s":"b","x":-3,"f":0.029},{"r":6,"c":2,"s":"b","x":-2,"f":0.082},{"r":6,"c":2,"s":"b","x":-1,"f":0.211},{"r":6,"c":2,"s":"b","x":0,"f":0.445},{"r":6,"c":2,"s":"b","x":1,"f":0.707},{"r":6,"c":2,"s":"b","x":2,"f":0.879},{"r":6,"c":2,"s":"b","x":3,"f":0.956},{"r":6,"c":2,"s":"b","x":4,"f":0.985},{"r":6,"c":2,"s":"b","x":5,"f":0.995},
{"r":6,"c":2,"s":"r","x":-5,"f":0.014},{"r":6,"c":2,"s":"r","x":-4,"f":0.042},{"r":6,"c":2,"s":"r","x":-3,"f":0.116},{"r":6,"c":2,"s":"r","x":-2,"f":0.282},{"r":6,"c":2,"s":"r","x":-1,"f":0.541},{"r":6,"c":2,"s":"r","x":0,"f":0.78},{"r":6,"c":2,"s":"r","x":1,"f":0.914},{"r":6,"c":2,"s":"r","x":2,"f":0.97},{"r":6,"c":2,"s":"r","x":3,"f":0.99},{"r":6,"c":2,"s":"r","x":4,"f":0.996},{"r":6,"c":2,"s":"r","x":5,"f":0.999},
{"r":6,"c":2,"s":"r","x":-4.85,"y":0.03},{"r":6,"c":2,"s":"r","x":-4.55,"y":0.03},{"r":6,"c":2,"s":"r","x":-3.5,"y":0.06},{"r":6,"c":2,"s":"r","x":-1.95,"y":0.28,"e":0.03},{"r":6,"c":2,"s":"r","x":-0.3,"y":0.74},{"r":6,"c":2,"s":"r","x":0.05,"y":0.86},{"r":6,"c":2,"s":"r","x":1.2,"y":0.9},{"r":6,"c":2,"s":"r","x":3.25,"y":1},{"r":6,"c":2,"s":"r","x":4.5,"y":1},
{"r":6,"c":2,"s":"b","x":-4.85,"y":0},{"r":6,"c":2,"s":"b","x":-3.5,"y":0.01},{"r":6,"c":2,"s":"b","x":-1.65,"y":0.1},{"r":6,"c":2,"s":"b","x":-0.3,"y":0.37},{"r":6,"c":2,"s":"b","x":0.35,"y":0.59},{"r":6,"c":2,"s":"b","x":1.65,"y":0.79},{"r":6,"c":2,"s":"b","x":3.4,"y":0.95},{"r":6,"c":2,"s":"b","x":4.55,"y":0.97},
{"r":6,"c":3,"s":"b","x":-5,"f":0.006},{"r":6,"c":3,"s":"b","x":-4,"f":0.016},{"r":6,"c":3,"s":"b","x":-3,"f":0.043},{"r":6,"c":3,"s":"b","x":-2,"f":0.114},{"r":6,"c":3,"s":"b","x":-1,"f":0.269},{"r":6,"c":3,"s":"b","x":0,"f":0.513},{"r":6,"c":3,"s":"b","x":1,"f":0.75},{"r":6,"c":3,"s":"b","x":2,"f":0.896},{"r":6,"c":3,"s":"b","x":3,"f":0.961},{"r":6,"c":3,"s":"b","x":4,"f":0.986},{"r":6,"c":3,"s":"b","x":5,"f":0.995},
{"r":6,"c":3,"s":"r","x":-5,"f":0.808},{"r":6,"c":3,"s":"r","x":-4,"f":0.933},{"r":6,"c":3,"s":"r","x":-3,"f":0.979},{"r":6,"c":3,"s":"r","x":-2,"f":0.994},{"r":6,"c":3,"s":"r","x":-1,"f":0.998},{"r":6,"c":3,"s":"r","x":0,"f":0.999},{"r":6,"c":3,"s":"r","x":1,"f":1},{"r":6,"c":3,"s":"r","x":2,"f":1},{"r":6,"c":3,"s":"r","x":3,"f":1},{"r":6,"c":3,"s":"r","x":4,"f":1},{"r":6,"c":3,"s":"r","x":5,"f":1},
{"r":6,"c":3,"s":"r","x":-4.1,"y":1},{"r":6,"c":3,"s":"r","x":-3.65,"y":0.97},{"r":6,"c":3,"s":"r","x":-2.6,"y":0.97},{"r":6,"c":3,"s":"r","x":-1.5,"y":0.97},{"r":6,"c":3,"s":"r","x":-0.4,"y":0.94},{"r":6,"c":3,"s":"r","x":0.3,"y":1},{"r":6,"c":3,"s":"r","x":2.05,"y":0.98},{"r":6,"c":3,"s":"r","x":3.3,"y":1},{"r":6,"c":3,"s":"r","x":4.2,"y":0.99},
{"r":6,"c":3,"s":"b","x":-4.1,"y":0.02},{"r":6,"c":3,"s":"b","x":-3.65,"y":0.03},{"r":6,"c":3,"s":"b","x":-2.6,"y":0.09},{"r":6,"c":3,"s":"b","x":-1.5,"y":0.19},{"r":6,"c":3,"s":"b","x":-0.6,"y":0.34},{"r":6,"c":3,"s":"b","x":0.2,"y":0.59},{"r":6,"c":3,"s":"b","x":1.65,"y":0.91},{"r":6,"c":3,"s":"b","x":3.05,"y":0.99},{"r":6,"c":3,"s":"b","x":4.2,"y":1},
{"r":7,"c":1,"s":"b","x":-5,"f":0.005},{"r":7,"c":1,"s":"b","x":-4,"f":0.016},{"r":7,"c":1,"s":"b","x":-3,"f":0.046},{"r":7,"c":1,"s":"b","x":-2,"f":0.127},{"r":7,"c":1,"s":"b","x":-1,"f":0.305},{"r":7,"c":1,"s":"b","x":0,"f":0.568},{"r":7,"c":1,"s":"b","x":1,"f":0.798},{"r":7,"c":1,"s":"b","x":2,"f":0.922},{"r":7,"c":1,"s":"b","x":3,"f":0.973},{"r":7,"c":1,"s":"b","x":4,"f":0.991},{"r":7,"c":1,"s":"b","x":5,"f":0.997},
{"r":7,"c":1,"s":"r","x":-5,"f":0.002},{"r":7,"c":1,"s":"r","x":-4,"f":0.005},{"r":7,"c":1,"s":"r","x":-3,"f":0.015},{"r":7,"c":1,"s":"r","x":-2,"f":0.039},{"r":7,"c":1,"s":"r","x":-1,"f":0.1},{"r":7,"c":1,"s":"r","x":0,"f":0.231},{"r":7,"c":1,"s":"r","x":1,"f":0.45},{"r":7,"c":1,"s":"r","x":2,"f":0.69},{"r":7,"c":1,"s":"r","x":3,"f":0.858},{"r":7,"c":1,"s":"r","x":4,"f":0.943},{"r":7,"c":1,"s":"r","x":5,"f":0.978},
{"r":7,"c":1,"s":"b","x":-4.75,"y":0.01},{"r":7,"c":1,"s":"b","x":-3.9,"y":0.01},{"r":7,"c":1,"s":"b","x":-2.2,"y":0.12},{"r":7,"c":1,"s":"b","x":-0.55,"y":0.47},{"r":7,"c":1,"s":"b","x":0.2,"y":0.56},{"r":7,"c":1,"s":"b","x":2,"y":0.9},{"r":7,"c":1,"s":"b","x":3.55,"y":0.96},{"r":7,"c":1,"s":"b","x":4.6,"y":0.99},
{"r":7,"c":1,"s":"r","x":-4.85,"y":0},{"r":7,"c":1,"s":"r","x":-4.15,"y":0},{"r":7,"c":1,"s":"r","x":-2.75,"y":0},{"r":7,"c":1,"s":"r","x":-0.8,"y":0.19},{"r":7,"c":1,"s":"r","x":0.4,"y":0.31,"e":0.04},{"r":7,"c":1,"s":"r","x":1.35,"y":0.52,"e":0.03},{"r":7,"c":1,"s":"r","x":3.5,"y":0.81,"e":0.03},{"r":7,"c":1,"s":"r","x":4.25,"y":0.88},{"r":7,"c":1,"s":"r","x":4.75,"y":0.94},
{"r":7,"c":2,"s":"b","x":-5,"f":0.005},{"r":7,"c":2,"s":"b","x":-4,"f":0.014},{"r":7,"c":2,"s":"b","x":-3,"f":0.039},{"r":7,"c":2,"s":"b","x":-2,"f":0.104},{"r":7,"c":2,"s":"b","x":-1,"f":0.25},{"r":7,"c":2,"s":"b","x":0,"f":0.488},{"r":7,"c":2,"s":"b","x":1,"f":0.731},{"r":7,"c":2,"s":"b","x":2,"f":0.886},{"r":7,"c":2,"s":"b","x":3,"f":0.957},{"r":7,"c":2,"s":"b","x":4,"f":0.984},{"r":7,"c":2,"s":"b","x":5,"f":0.994},
{"r":7,"c":2,"s":"r","x":-5,"f":0},{"r":7,"c":2,"s":"r","x":-4,"f":0},{"r":7,"c":2,"s":"r","x":-3,"f":0},{"r":7,"c":2,"s":"r","x":-2,"f":0.001},{"r":7,"c":2,"s":"r","x":-1,"f":0.003},{"r":7,"c":2,"s":"r","x":0,"f":0.008},{"r":7,"c":2,"s":"r","x":1,"f":0.024},{"r":7,"c":2,"s":"r","x":2,"f":0.07},{"r":7,"c":2,"s":"r","x":3,"f":0.185},{"r":7,"c":2,"s":"r","x":4,"f":0.405},{"r":7,"c":2,"s":"r","x":5,"f":0.672},
{"r":7,"c":2,"s":"b","x":-4.85,"y":0.02},{"r":7,"c":2,"s":"b","x":-3.5,"y":0.03},{"r":7,"c":2,"s":"b","x":-1.65,"y":0.15},{"r":7,"c":2,"s":"b","x":-0.3,"y":0.45},{"r":7,"c":2,"s":"b","x":0.45,"y":0.6},{"r":7,"c":2,"s":"b","x":1.65,"y":0.85},{"r":7,"c":2,"s":"b","x":3.4,"y":0.96},{"r":7,"c":2,"s":"b","x":4.55,"y":0.99},
{"r":7,"c":2,"s":"r","x":-4.85,"y":0},{"r":7,"c":2,"s":"r","x":-3.95,"y":0},{"r":7,"c":2,"s":"r","x":-2.25,"y":0},{"r":7,"c":2,"s":"r","x":-0.6,"y":0},{"r":7,"c":2,"s":"r","x":0.05,"y":0},{"r":7,"c":2,"s":"r","x":1.15,"y":0.16,"e":0.04},{"r":7,"c":2,"s":"r","x":3.4,"y":0.34,"e":0.04},{"r":7,"c":2,"s":"r","x":4.4,"y":0.43},{"r":7,"c":2,"s":"r","x":4.6,"y":0.58},
{"r":7,"c":3,"s":"b","x":-5,"f":0.004},{"r":7,"c":3,"s":"b","x":-4,"f":0.012},{"r":7,"c":3,"s":"b","x":-3,"f":0.036},{"r":7,"c":3,"s":"b","x":-2,"f":0.1},{"r":7,"c":3,"s":"b","x":-1,"f":0.25},{"r":7,"c":3,"s":"b","x":0,"f":0.5},{"r":7,"c":3,"s":"b","x":1,"f":0.75},{"r":7,"c":3,"s":"b","x":2,"f":0.9},{"r":7,"c":3,"s":"b","x":3,"f":0.964},{"r":7,"c":3,"s":"b","x":4,"f":0.988},{"r":7,"c":3,"s":"b","x":5,"f":0.996},
{"r":7,"c":3,"s":"r","x":-5,"f":0},{"r":7,"c":3,"s":"r","x":-4,"f":0},{"r":7,"c":3,"s":"r","x":-3,"f":0},{"r":7,"c":3,"s":"r","x":-2,"f":0},{"r":7,"c":3,"s":"r","x":-1,"f":0.002},{"r":7,"c":3,"s":"r","x":0,"f":0.006},{"r":7,"c":3,"s":"r","x":1,"f":0.019},{"r":7,"c":3,"s":"r","x":2,"f":0.06},{"r":7,"c":3,"s":"r","x":3,"f":0.174},{"r":7,"c":3,"s":"r","x":4,"f":0.411},{"r":7,"c":3,"s":"r","x":5,"f":0.698},
{"r":7,"c":3,"s":"b","x":-4.2,"y":0.01},{"r":7,"c":3,"s":"b","x":-4,"y":0.01},{"r":7,"c":3,"s":"b","x":-3,"y":0.02},{"r":7,"c":3,"s":"b","x":-1.55,"y":0.08},{"r":7,"c":3,"s":"b","x":-0.4,"y":0.36},{"r":7,"c":3,"s":"b","x":0.55,"y":0.73},{"r":7,"c":3,"s":"b","x":1.7,"y":0.8},{"r":7,"c":3,"s":"b","x":2.8,"y":0.94},{"r":7,"c":3,"s":"b","x":3.8,"y":0.97},{"r":7,"c":3,"s":"b","x":4.1,"y":0.97},
{"r":7,"c":3,"s":"r","x":-4.1,"y":0},{"r":7,"c":3,"s":"r","x":-3.1,"y":0},{"r":7,"c":3,"s":"r","x":-1.05,"y":0},{"r":7,"c":3,"s":"r","x":0,"y":0},{"r":7,"c":3,"s":"r","x":0.65,"y":0.04},{"r":7,"c":3,"s":"r","x":1.95,"y":0.27,"e":0.05},{"r":7,"c":3,"s":"r","x":3.1,"y":0.25,"e":0.03},{"r":7,"c":3,"s":"r","x":3.9,"y":0.26,"e":0.03},{"r":7,"c":3,"s":"r","x":4.25,"y":0.34}
],
"right":[
{"r":1,"c":1,"n":"Left DMS"},{"r":1,"c":2,"n":"D2-10"},{"r":2,"c":1,"n":"Right DMS"},{"r":3,"c":1,"n":"Left DMS"},{"r":3,"c":2,"n":"D2-11"},{"r":4,"c":1,"n":"Right DMS"},{"r":5,"c":1,"n":"Left DMS"},{"r":5,"c":2,"n":"D2-12"},{"r":6,"c":1,"n":"Right DMS"},
{"r":6,"c":1,"a":"relative action value"},{"r":6,"c":2,"a":"relative action value"},{"r":6,"c":3,"a":"relative action value"},
{"r":1,"c":1,"s":"b","x":-5,"f":0.01},{"r":1,"c":1,"s":"b","x":-4,"f":0.024},{"r":1,"c":1,"s":"b","x":-3,"f":0.058},{"r":1,"c":1,"s":"b","x":-2,"f":0.131},{"r":1,"c":1,"s":"b","x":-1,"f":0.271},{"r":1,"c":1,"s":"b","x":0,"f":0.478},{"r":1,"c":1,"s":"b","x":1,"f":0.692},{"r":1,"c":1,"s":"b","x":2,"f":0.847},{"r":1,"c":1,"s":"b","x":3,"f":0.931},{"r":1,"c":1,"s":"b","x":4,"f":0.971},{"r":1,"c":1,"s":"b","x":5,"f":0.988},
{"r":1,"c":1,"s":"r","x":-5,"f":0.035},{"r":1,"c":1,"s":"r","x":-4,"f":0.081},{"r":1,"c":1,"s":"r","x":-3,"f":0.178},{"r":1,"c":1,"s":"r","x":-2,"f":0.348},{"r":1,"c":1,"s":"r","x":-1,"f":0.567},{"r":1,"c":1,"s":"r","x":0,"f":0.763},{"r":1,"c":1,"s":"r","x":1,"f":0.888},{"r":1,"c":1,"s":"r","x":2,"f":0.951},{"r":1,"c":1,"s":"r","x":3,"f":0.98},{"r":1,"c":1,"s":"r","x":4,"f":0.992},{"r":1,"c":1,"s":"r","x":5,"f":0.997},
{"r":1,"c":1,"s":"r","x":-3.3,"y":0.2,"e":0.03},{"r":1,"c":1,"s":"r","x":-2.9,"y":0.2,"e":0.03},{"r":1,"c":1,"s":"r","x":-1.7,"y":0.47},{"r":1,"c":1,"s":"r","x":-1,"y":0.55,"e":0.04},{"r":1,"c":1,"s":"r","x":-0.5,"y":0.68,"e":0.04},{"r":1,"c":1,"s":"r","x":0.55,"y":0.9,"e":0.04},{"r":1,"c":1,"s":"r","x":1.35,"y":0.83},{"r":1,"c":1,"s":"r","x":2.2,"y":0.98},{"r":1,"c":1,"s":"r","x":3.2,"y":1},
{"r":1,"c":1,"s":"b","x":-3.15,"y":0.05},{"r":1,"c":1,"s":"b","x":-2.9,"y":0.09},{"r":1,"c":1,"s":"b","x":-1.85,"y":0.16},{"r":1,"c":1,"s":"b","x":-1.05,"y":0.22},{"r":1,"c":1,"s":"b","x":-0.45,"y":0.39},{"r":1,"c":1,"s":"b","x":0.35,"y":0.72},{"r":1,"c":1,"s":"b","x":1.05,"y":0.82},{"r":1,"c":1,"s":"b","x":1.95,"y":0.88},{"r":1,"c":1,"s":"b","x":3.1,"y":0.95},
{"r":1,"c":2,"s":"b","x":-5,"f":0.005},{"r":1,"c":2,"s":"b","x":-4,"f":0.015},{"r":1,"c":2,"s":"b","x":-3,"f":0.041},{"r":1,"c":2,"s":"b","x":-2,"f":0.109},{"r":1,"c":2,"s":"b","x":-1,"f":0.259},{"r":1,"c":2,"s":"b","x":0,"f":0.5},{"r":1,"c":2,"s":"b","x":1,"f":0.741},{"r":1,"c":2,"s":"b","x":2,"f":0.891},{"r":1,"c":2,"s":"b","x":3,"f":0.959},{"r":1,"c":2,"s":"b","x":4,"f":0.985},{"r":1,"c":2,"s":"b","x":5,"f":0.995},
{"r":1,"c":2,"s":"r","x":-5,"f":0.157},{"r":1,"c":2,"s":"r","x":-4,"f":0.382},{"r":1,"c":2,"s":"r","x":-3,"f":0.673},{"r":1,"c":2,"s":"r","x":-2,"f":0.872},{"r":1,"c":2,"s":"r","x":-1,"f":0.958},{"r":1,"c":2,"s":"r","x":0,"f":0.987},{"r":1,"c":2,"s":"r","x":1,"f":0.996},{"r":1,"c":2,"s":"r","x":2,"f":0.999},{"r":1,"c":2,"s":"r","x":3,"f":1},{"r":1,"c":2,"s":"r","x":4,"f":1},{"r":1,"c":2,"s":"r","x":5,"f":1},
{"r":1,"c":2,"s":"r","x":-3.3,"y":0.93},{"r":1,"c":2,"s":"r","x":-2.75,"y":0.8},{"r":1,"c":2,"s":"r","x":-2.05,"y":0.75},{"r":1,"c":2,"s":"r","x":-1.3,"y":0.79,"e":0.04},{"r":1,"c":2,"s":"r","x":-0.35,"y":0.88},{"r":1,"c":2,"s":"r","x":0.2,"y":0.91},{"r":1,"c":2,"s":"r","x":1,"y":0.91},{"r":1,"c":2,"s":"r","x":2.15,"y":0.93},{"r":1,"c":2,"s":"r","x":2.85,"y":1},{"r":1,"c":2,"s":"r","x":3.2,"y":0.98},
{"r":1,"c":2,"s":"b","x":-3.3,"y":0.01},{"r":1,"c":2,"s":"b","x":-3.1,"y":0.02},{"r":1,"c":2,"s":"b","x":-2.3,"y":0.06},{"r":1,"c":2,"s":"b","x":-1.25,"y":0.14},{"r":1,"c":2,"s":"b","x":-0.55,"y":0.34},{"r":1,"c":2,"s":"b","x":0.35,"y":0.68},{"r":1,"c":2,"s":"b","x":1,"y":0.81},{"r":1,"c":2,"s":"b","x":2.05,"y":0.86},{"r":1,"c":2,"s":"b","x":2.9,"y":0.91},{"r":1,"c":2,"s":"b","x":3.2,"y":0.94},
{"r":1,"c":3,"s":"b","x":-5,"f":0.004},{"r":1,"c":3,"s":"b","x":-4,"f":0.011},{"r":1,"c":3,"s":"b","x":-3,"f":0.032},{"r":1,"c":3,"s":"b","x":-2,"f":0.09},{"r":1,"c":3,"s":"b","x":-1,"f":0.23},{"r":1,"c":3,"s":"b","x":0,"f":0.527},{"r":1,"c":3,"s":"b","x":1,"f":0.77},{"r":1,"c":3,"s":"b","x":2,"f":0.91},{"r":1,"c":3,"s":"b","x":3,"f":0.968},{"r":1,"c":3,"s":"b","x":4,"f":0.989},{"r":1,"c":3,"s":"b","x":5,"f":0.996},
{"r":1,"c":3,"s":"r","x":-5,"f":0.151},{"r":1,"c":3,"s":"r","x":-4,"f":0.36},{"r":1,"c":3,"s":"r","x":-3,"f":0.64},{"r":1,"c":3,"s":"r","x":-2,"f":0.849},{"r":1,"c":3,"s":"r","x":-1,"f":0.947},{"r":1,"c":3,"s":"r","x":0,"f":0.982},{"r":1,"c":3,"s":"r","x":1,"f":0.994},{"r":1,"c":3,"s":"r","x":2,"f":0.998},{"r":1,"c":3,"s":"r","x":3,"f":0.999},{"r":1,"c":3,"s":"r","x":4,"f":1},{"r":1,"c":3,"s":"r","x":5,"f":1},
{"r":1,"c":3,"s":"r","x":-3.05,"y":0.75},{"r":1,"c":3,"s":"r","x":-2.8,"y":0.85},{"r":1,"c":3,"s":"r","x":-2,"y":0.9},{"r":1,"c":3,"s":"r","x":-0.95,"y":0.88},{"r":1,"c":3,"s":"r","x":-0.3,"y":0.75,"e":0.04},{"r":1,"c":3,"s":"r","x":0.25,"y":0.85,"e":0.04},{"r":1,"c":3,"s":"r","x":1.25,"y":0.86},{"r":1,"c":3,"s":"r","x":2.4,"y":1},{"r":1,"c":3,"s":"r","x":2.9,"y":0.98},{"r":1,"c":3,"s":"r","x":3.05,"y":0.97},
{"r":1,"c":3,"s":"b","x":-3.05,"y":0.06},{"r":1,"c":3,"s":"b","x":-2.7,"y":0.06},{"r":1,"c":3,"s":"b","x":-1.95,"y":0.08},{"r":1,"c":3,"s":"b","x":-0.95,"y":0.19},{"r":1,"c":3,"s":"b","x":-0.3,"y":0.35},{"r":1,"c":3,"s":"b","x":0.1,"y":0.55},{"r":1,"c":3,"s":"b","x":0.85,"y":0.78},{"r":1,"c":3,"s":"b","x":2.1,"y":0.92},{"r":1,"c":3,"s":"b","x":2.9,"y":0.92},{"r":1,"c":3,"s":"b","x":3.1,"y":0.96},
{"r":2,"c":1,"s":"b","x":-5,"f":0.009},{"r":2,"c":1,"s":"b","x":-4,"f":0.025},{"r":2,"c":1,"s":"b","x":-3,"f":0.066},{"r":2,"c":1,"s":"b","x":-2,"f":0.161},{"r":2,"c":1,"s":"b","x":-1,"f":0.343},{"r":2,"c":1,"s":"b","x":0,"f":0.587},{"r":2,"c":1,"s":"b","x":1,"f":0.794},{"r":2,"c":1,"s":"b","x":2,"f":0.913},{"r":2,"c":1,"s":"b","x":3,"f":0.966},{"r":2,"c":1,"s":"b","x":4,"f":0.987},{"r":2,"c":1,"s":"b","x":5,"f":0.995},
{"r":2,"c":1,"s":"r","x":-5,"f":0.002},{"r":2,"c":1,"s":"r","x":-4,"f":0.008},{"r":2,"c":1,"s":"r","x":-3,"f":0.025},{"r":2,"c":1,"s":"r","x":-2,"f":0.079},{"r":2,"c":1,"s":"r","x":-1,"f":0.221},{"r":2,"c":1,"s":"r","x":0,"f":0.485},{"r":2,"c":1,"s":"r","x":1,"f":0.758},{"r":2,"c":1,"s":"r","x":2,"f":0.912},{"r":2,"c":1,"s":"r","x":3,"f":0.972},{"r":2,"c":1,"s":"r","x":4,"f":0.991},{"r":2,"c":1,"s":"r","x":5,"f":0.997},
{"r":2,"c":1,"s":"b","x":-3.8,"y":0.06},{"r":2,"c":1,"s":"b","x":-3.3,"y":0.09},{"r":2,"c":1,"s":"b","x":-2.45,"y":0.15},{"r":2,"c":1,"s":"b","x":-1.45,"y":0.22},{"r":2,"c":1,"s":"b","x":-0.55,"y":0.38},{"r":2,"c":1,"s":"b","x":0.25,"y":0.65},{"r":2,"c":1,"s":"b","x":1.2,"y":0.87},{"r":2,"c":1,"s":"b","x":2.7,"y":0.97},{"r":2,"c":1,"s":"b","x":3.7,"y":0.99},
{"r":2,"c":1,"s":"r","x":-3.6,"y":0.04},{"r":2,"c":1,"s":"r","x":-3.5,"y":0.02},{"r":2,"c":1,"s":"r","x":-2.7,"y":0.06},{"r":2,"c":1,"s":"r","x":-1.8,"y":0.11},{"r":2,"c":1,"s":"r","x":-0.7,"y":0.22,"e":0.03},{"r":2,"c":1,"s":"r","x":0.1,"y":0.46,"e":0.03},{"r":2,"c":1,"s":"r","x":0.95,"y":0.63,"e":0.03},{"r":2,"c":1,"s":"r","x":2.6,"y":0.99},{"r":2,"c":1,"s":"r","x":3.6,"y":0.98},
{"r":2,"c":2,"s":"b","x":-5,"f":0.008},{"r":2,"c":2,"s":"b","x":-4,"f":0.022},{"r":2,"c":2,"s":"b","x":-3,"f":0.057},{"r":2,"c":2,"s":"b","x":-2,"f":0.142},{"r":2,"c":2,"s":"b","x":-1,"f":0.31},{"r":2,"c":2,"s":"b","x":0,"f":0.55},{"r":2,"c":2,"s":"b","x":1,"f":0.769},{"r":2,"c":2,"s":"b","x":2,"f":0.9},{"r":2,"c":2,"s":"b","x":3,"f":0.961},{"r":2,"c":2,"s":"b","x":4,"f":0.985},{"r":2,"c":2,"s":"b","x":5,"f":0.994},
{"r":2,"c":2,"s":"r","x":-5,"f":0.001},{"r":2,"c":2,"s":"r","x":-4,"f":0.003},{"r":2,"c":2,"s":"r","x":-3,"f":0.011},{"r":2,"c":2,"s":"r","x":-2,"f":0.037},{"r":2,"c":2,"s":"r","x":-1,"f":0.119},{"r":2,"c":2,"s":"r","x":0,"f":0.321},{"r":2,"c":2,"s":"r","x":1,"f":0.622},{"r":2,"c":2,"s":"r","x":2,"f":0.852},{"r":2,"c":2,"s":"r","x":3,"f":0.953},{"r":2,"c":2,"s":"r","x":4,"f":0.986},{"r":2,"c":2,"s":"r","x":5,"f":0.996},
{"r":2,"c":2,"s":"b","x":-3.3,"y":0.14},{"r":2,"c":2,"s":"b","x":-3.1,"y":0.12},{"r":2,"c":2,"s":"b","x":-2.1,"y":0.16},{"r":2,"c":2,"s":"b","x":-1.5,"y":0.2},{"r":2,"c":2,"s":"b","x":-0.75,"y":0.29},{"r":2,"c":2,"s":"b","x":0,"y":0.54},{"r":2,"c":2,"s":"b","x":0.9,"y":0.81},{"r":2,"c":2,"s":"b","x":2.1,"y":0.95},{"r":2,"c":2,"s":"b","x":3.1,"y":0.99},
{"r":2,"c":2,"s":"r","x":-3.2,"y":0.03},{"r":2,"c":2,"s":"r","x":-3.1,"y":0.02},{"r":2,"c":2,"s":"r","x":-2.25,"y":0.01},{"r":2,"c":2,"s":"r","x":-1.8,"y":0.14,"e":0.03},{"r":2,"c":2,"s":"r","x":-0.8,"y":0.09,"e":0.03},{"r":2,"c":2,"s":"r","x":-0.15,"y":0.28,"e":0.04},{"r":2,"c":2,"s":"r","x":0.35,"y":0.37,"e":0.04},{"r":2,"c":2,"s":"r","x":1.8,"y":0.9,"e":0.03},{"r":2,"c":2,"s":"r","x":3.1,"y":0.99},
{"r":2,"c":3,"s":"b","x":-5,"f":0.011},{"r":2,"c":3,"s":"b","x":-4,"f":0.029},{"r":2,"c":3,"s":"b","x":-3,"f":0.076},{"r":2,"c":3,"s":"b","x":-2,"f":0.182},{"r":2,"c":3,"s":"b","x":-1,"f":0.378},{"r":2,"c":3,"s":"b","x":0,"f":0.622},{"r":2,"c":3,"s":"b","x":1,"f":0.818},{"r":2,"c":3,"s":"b","x":2,"f":0.924},{"r":2,"c":3,"s":"b","x":3,"f":0.971},{"r":2,"c":3,"s":"b","x":4,"f":0.989},{"r":2,"c":3,"s":"b","x":5,"f":0.996},
{"r":2,"c":3,"s":"r","x":-5,"f":0},{"r":2,"c":3,"s":"r","x":-4,"f":0.001},{"r":2,"c":3,"s":"r","x":-3,"f":0.002},{"r":2,"c":3,"s":"r","x":-2,"f":0.006},{"r":2,"c":3,"s":"r","x":-1,"f":0.02},{"r":2,"c":3,"s":"r","x":0,"f":0.06},{"r":2,"c":3,"s":"r","x":1,"f":0.167},{"r":2,"c":3,"s":"r","x":2,"f":0.387},{"r":2,"c":3,"s":"r","x":3,"f":0.666},{"r":2,"c":3,"s":"r","x":4,"f":0.863},{"r":2,"c":3,"s":"r","x":5,"f":0.952},
{"r":2,"c":3,"s":"b","x":-3.2,"y":0.11},{"r":2,"c":3,"s":"b","x":-3.05,"y":0.12},{"r":2,"c":3,"s":"b","x":-2.2,"y":0.18},{"r":2,"c":3,"s":"b","x":-1.4,"y":0.29},{"r":2,"c":3,"s":"b","x":-0.55,"y":0.35},{"r":2,"c":3,"s":"b","x":0,"y":0.58},{"r":2,"c":3,"s":"b","x":0.9,"y":0.84},{"r":2,"c":3,"s":"b","x":2.15,"y":0.96},{"r":2,"c":3,"s":"b","x":3.05,"y":0.99},
{"r":2,"c":3,"s":"r","x":-3.2,"y":0},{"r":2,"c":3,"s":"r","x":-2.25,"y":0},{"r":2,"c":3,"s":"r","x":-1.3,"y":0.14,"e":0.04},{"r":2,"c":3,"s":"r","x":-0.3,"y":0.11,"e":0.04},{"r":2,"c":3,"s":"r","x":0.15,"y":0.09},{"r":2,"c":3,"s":"r","x":0.8,"y":0.24,"e":0.04},{"r":2,"c":3,"s":"r","x":2.35,"y":0.46},{"r":2,"c":3,"s":"r","x":3.2,"y":0.53},
{"r":3,"c":1,"s":"b","x":-5,"f":0.004},{"r":3,"c":1,"s":"b","x":-4,"f":0.012},{"r":3,"c":1,"s":"b","x":-3,"f":0.036},{"r":3,"c":1,"s":"b","x":-2,"f":0.106},{"r":3,"c":1,"s":"b","x":-1,"f":0.273},{"r":3,"c":1,"s":"b","x":0,"f":0.542},{"r":3,"c":1,"s":"b","x":1,"f":0.789},{"r":3,"c":1,"s":"b","x":2,"f":0.922},{"r":3,"c":1,"s":"b","x":3,"f":0.974},{"r":3,"c":1,"s":"b","x":4,"f":0.992},{"r":3,"c":1,"s":"b","x":5,"f":0.997},
{"r":3,"c":1,"s":"r","x":-5,"f":0.008},{"r":3,"c":1,"s":"r","x":-4,"f":0.025},{"r":3,"c":1,"s":"r","x":-3,"f":0.079},{"r":3,"c":1,"s":"r","x":-2,"f":0.221},{"r":3,"c":1,"s":"r","x":-1,"f":0.485},{"r":3,"c":1,"s":"r","x":0,"f":0.758},{"r":3,"c":1,"s":"r","x":1,"f":0.912},{"r":3,"c":1,"s":"r","x":2,"f":0.972},{"r":3,"c":1,"s":"r","x":3,"f":0.991},{"r":3,"c":1,"s":"r","x":4,"f":0.997},{"r":3,"c":1,"s":"r","x":5,"f":0.999},
{"r":3,"c":1,"s":"b","x":-4,"y":0.01},{"r":3,"c":1,"s":"b","x":-3.8,"y":0.02},{"r":3,"c":1,"s":"b","x":-3.2,"y":0.05},{"r":3,"c":1,"s":"b","x":-1.9,"y":0.08},{"r":3,"c":1,"s":"b","x":-0.7,"y":0.36},{"r":3,"c":1,"s":"b","x":0.2,"y":0.59},{"r":3,"c":1,"s":"b","x":1.6,"y":0.87},{"r":3,"c":1,"s":"b","x":3.15,"y":0.97},{"r":3,"c":1,"s":"b","x":4.15,"y":0.99},
{"r":3,"c":1,"s":"r","x":-4.1,"y":0.05},{"r":3,"c":1,"s":"r","x":-3.9,"y":0.03},{"r":3,"c":1,"s":"r","x":-3.1,"y":0.04},{"r":3,"c":1,"s":"r","x":-1.7,"y":0.22,"e":0.03},{"r":3,"c":1,"s":"r","x":-0.55,"y":0.65,"e":0.04},{"r":3,"c":1,"s":"r","x":0.1,"y":0.78,"e":0.04},{"r":3,"c":1,"s":"r","x":1.7,"y":0.92},{"r":3,"c":1,"s":"r","x":3.3,"y":1},{"r":3,"c":1,"s":"r","x":4.15,"y":1},
{"r":3,"c":2,"s":"b","x":-5,"f":0.004},{"r":3,"c":2,"s":"b","x":-4,"f":0.012},{"r":3,"c":2,"s":"b","x":-3,"f":0.036},{"r":3,"c":2,"s":"b","x":-2,"f":0.1},{"r":3,"c":2,"s":"b","x":-1,"f":0.25},{"r":3,"c":2,"s":"b","x":0,"f":0.5},{"r":3,"c":2,"s":"b","x":1,"f":0.75},{"r":3,"c":2,"s":"b","x":2,"f":0.9},{"r":3,"c":2,"s":"b","x":3,"f":0.964},{"r":3,"c":2,"s":"b","x":4,"f":0.988},{"r":3,"c":2,"s":"b","x":5,"f":0.996},
{"r":3,"c":2,"s":"r","x":-5,"f":0.061},{"r":3,"c":2,"s":"r","x":-4,"f":0.157},{"r":3,"c":2,"s":"r","x":-3,"f":0.348},{"r":3,"c":2,"s":"r","x":-2,"f":0.603},{"r":3,"c":2,"s":"r","x":-1,"f":0.813},{"r":3,"c":2,"s":"r","x":0,"f":0.926},{"r":3,"c":2,"s":"r","x":1,"f":0.973},{"r":3,"c":2,"s":"r","x":2,"f":0.99},{"r":3,"c":2,"s":"r","x":3,"f":0.997},{"r":3,"c":2,"s":"r","x":4,"f":0.999},{"r":3,"c":2,"s":"r","x":5,"f":1},
{"r":3,"c":2,"s":"b","x":-5,"y":0},{"r":3,"c":2,"s":"b","x":-3.85,"y":0.02},{"r":3,"c":2,"s":"b","x":-2.15,"y":0.09},{"r":3,"c":2,"s":"b","x":-0.5,"y":0.35},{"r":3,"c":2,"s":"b","x":0.5,"y":0.6},{"r":3,"c":2,"s":"b","x":2.4,"y":0.93},{"r":3,"c":2,"s":"b","x":3.8,"y":1},{"r":3,"c":2,"s":"b","x":4.75,"y":1},
{"r":3,"c":2,"s":"r","x":-5,"y":0},{"r":3,"c":2,"s":"r","x":-4.6,"y":0.18,"e":0.04},{"r":3,"c":2,"s":"r","x":-3.5,"y":0.16,"e":0.03},{"r":3,"c":2,"s":"r","x":-1.5,"y":0.66,"e":0.05},{"r":3,"c":2,"s":"r","x":-0.45,"y":0.91,"e":0.03},{"r":3,"c":2,"s":"r","x":0.5,"y":1},{"r":3,"c":2,"s":"r","x":2.2,"y":1},{"r":3,"c":2,"s":"r","x":3.8,"y":1},{"r":3,"c":2,"s":"r","x":4.75,"y":1},
{"r":3,"c":3,"s":"b","x":-5,"f":0.005},{"r":3,"c":3,"s":"b","x":-4,"f":0.015},{"r":3,"c":3,"s":"b","x":-3,"f":0.044},{"r":3,"c":3,"s":"b","x":-2,"f":0.121},{"r":3,"c":3,"s":"b","x":-1,"f":0.293},{"r":3,"c":3,"s":"b","x":0,"f":0.555},{"r":3,"c":3,"s":"b","x":1,"f":0.789},{"r":3,"c":3,"s":"b","x":2,"f":0.918},{"r":3,"c":3,"s":"b","x":3,"f":0.971},{"r":3,"c":3,"s":"b","x":4,"f":0.99},{"r":3,"c":3,"s":"b","x":5,"f":0.997},
{"r":3,"c":3,"s":"r","x":-5,"f":0.05},{"r":3,"c":3,"s":"r","x":-4,"f":0.131},{"r":3,"c":3,"s":"r","x":-3,"f":0.301},{"r":3,"c":3,"s":"r","x":-2,"f":0.552},{"r":3,"c":3,"s":"r","x":-1,"f":0.779},{"r":3,"c":3,"s":"r","x":0,"f":0.91},{"r":3,"c":3,"s":"r","x":1,"f":0.966},{"r":3,"c":3,"s":"r","x":2,"f":0.988},{"r":3,"c":3,"s":"r","x":3,"f":0.996},{"r":3,"c":3,"s":"r","x":4,"f":0.999},{"r":3,"c":3,"s":"r","x":5,"f":1},
{"r":3,"c":3,"s":"b","x":-4.9,"y":0},{"r":3,"c":3,"s":"b","x":-4.45,"y":0.01},{"r":3,"c":3,"s":"b","x":-3.85,"y":0.01},{"r":3,"c":3,"s":"b","x":-1.9,"y":0.16},{"r":3,"c":3,"s":"b","x":-0.55,"y":0.4},{"r":3,"c":3,"s":"b","x":0.4,"y":0.67},{"r":3,"c":3,"s":"b","x":2,"y":0.92},{"r":3,"c":3,"s":"b","x":3.7,"y":1},{"r":3,"c":3,"s":"b","x":4.4,"y":1},{"r":3,"c":3,"s":"b","x":4.8,"y":1},
{"r":3,"c":3,"s":"r","x":-4.8,"y":0.2},{"r":3,"c":3,"s":"r","x":-4.5,"y":0.15},{"r":3,"c":3,"s":"r","x":-3.9,"y":0.09},{"r":3,"c":3,"s":"r","x":-2,"y":0.47},{"r":3,"c":3,"s":"r","x":-0.4,"y":0.75},{"r":3,"c":3,"s":"r","x":0.3,"y":0.94},{"r":3,"c":3,"s":"r","x":1.35,"y":0.98},{"r":3,"c":3,"s":"r","x":3.55,"y":1},{"r":3,"c":3,"s":"r","x":4.5,"y":1},
{"r":4,"c":1,"s":"b","x":-5,"f":0.004},{"r":4,"c":1,"s":"b","x":-4,"f":0.012},{"r":4,"c":1,"s":"b","x":-3,"f":0.038},{"r":4,"c":1,"s":"b","x":-2,"f":0.112},{"r":4,"c":1,"s":"b","x":-1,"f":0.285},{"r":4,"c":1,"s":"b","x":0,"f":0.557},{"r":4,"c":1,"s":"b","x":1,"f":0.799},{"r":4,"c":1,"s":"b","x":2,"f":0.926},{"r":4,"c":1,"s":"b","x":3,"f":0.975},{"r":4,"c":1,"s":"b","x":4,"f":0.992},{"r":4,"c":1,"s":"b","x":5,"f":0.997},
{"r":4,"c":1,"s":"r","x":-5,"f":0.001},{"r":4,"c":1,"s":"r","x":-4,"f":0.004},{"r":4,"c":1,"s":"r","x":-3,"f":0.013},{"r":4,"c":1,"s":"r","x":-2,"f":0.042},{"r":4,"c":1,"s":"r","x":-1,"f":0.128},{"r":4,"c":1,"s":"r","x":0,"f":0.327},{"r":4,"c":1,"s":"r","x":1,"f":0.618},{"r":4,"c":1,"s":"r","x":2,"f":0.843},{"r":4,"c":1,"s":"r","x":3,"f":0.947},{"r":4,"c":1,"s":"r","x":4,"f":0.983},{"r":4,"c":1,"s":"r","x":5,"f":0.995},
{"r":4,"c":1,"s":"b","x":-4.1,"y":0.03},{"r":4,"c":1,"s":"b","x":-3.9,"y":0.03},{"r":4,"c":1,"s":"b","x":-3.1,"y":0.07},{"r":4,"c":1,"s":"b","x":-1.75,"y":0.11},{"r":4,"c":1,"s":"b","x":-0.5,"y":0.42},{"r":4,"c":1,"s":"b","x":0.15,"y":0.52},{"r":4,"c":1,"s":"b","x":1.5,"y":0.8},{"r":4,"c":1,"s":"b","x":3,"y":0.97},{"r":4,"c":1,"s":"b","x":4.1,"y":0.99},
{"r":4,"c":1,"s":"r","x":-4.2,"y":0.03},{"r":4,"c":1,"s":"r","x":-3.4,"y":0.03},{"r":4,"c":1,"s":"r","x":-2.4,"y":0.04},{"r":4,"c":1,"s":"r","x":-0.65,"y":0.2,"e":0.03},{"r":4,"c":1,"s":"r","x":0.1,"y":0.24,"e":0.03},{"r":4,"c":1,"s":"r","x":0.9,"y":0.48},{"r":4,"c":1,"s":"r","x":2.7,"y":0.93},{"r":4,"c":1,"s":"r","x":3.8,"y":0.94},{"r":4,"c":1,"s":"r","x":4,"y":0.97},
{"r":4,"c":2,"s":"b","x":-5,"f":0.005},{"r":4,"c":2,"s":"b","x":-4,"f":0.013},{"r":4,"c":2,"s":"b","x":-3,"f":0.037},{"r":4,"c":2,"s":"b","x":-2,"f":0.12},{"r":4,"c":2,"s":"b","x":-1,"f":0.28},{"r":4,"c":2,"s":"b","x":0,"f":0.526},{"r":4,"c":2,"s":"b","x":1,"f":0.76},{"r":4,"c":2,"s":"b","x":2,"f":0.9},{"r":4,"c":2,"s":"b","x":3,"f":0.963},{"r":4,"c":2,"s":"b","x":4,"f":0.987},{"r":4,"c":2,"s":"b","x":5,"f":0.995},
{"r":4,"c":2,"s":"r","x":-5,"f":0.002},{"r":4,"c":2,"s":"r","x":-4,"f":0.005},{"r":4,"c":2,"s":"r","x":-3,"f":0.013},{"r":4,"c":2,"s":"r","x":-2,"f":0.032},{"r":4,"c":2,"s":"r","x":-1,"f":0.074},{"r":4,"c":2,"s":"r","x":0,"f":0.165},{"r":4,"c":2,"s":"r","x":1,"f":0.327},{"r":4,"c":2,"s":"r","x":2,"f":0.545},{"r":4,"c":2,"s":"r","x":3,"f":0.746},{"r":4,"c":2,"s":"r","x":4,"f":0.879},{"r":4,"c":2,"s":"r","x":5,"f":0.947},
{"r":4,"c":2,"s":"b","x":-4.9,"y":0.02},{"r":4,"c":2,"s":"b","x":-4.65,"y":0.02},{"r":4,"c":2,"s":"b","x":-3.65,"y":0.04},{"r":4,"c":2,"s":"b","x":-2.05,"y":0.11},{"r":4,"c":2,"s":"b","x":-0.4,"y":0.36},{"r":4,"c":2,"s":"b","x":0.35,"y":0.54},{"r":4,"c":2,"s":"b","x":2,"y":0.89},{"r":4,"c":2,"s":"b","x":3.55,"y":0.99},{"r":4,"c":2,"s":"b","x":4.6,"y":0.99},
{"r":4,"c":2,"s":"r","x":-4.8,"y":0},{"r":4,"c":2,"s":"r","x":-4.6,"y":0},{"r":4,"c":2,"s":"r","x":-3.55,"y":0},{"r":4,"c":2,"s":"r","x":-1.65,"y":0.06,"e":0.03},{"r":4,"c":2,"s":"r","x":-0.55,"y":0.17,"e":0.03},{"r":4,"c":2,"s":"r","x":0.35,"y":0.18},{"r":4,"c":2,"s":"r","x":1.95,"y":0.54,"e":0.04},{"r":4,"c":2,"s":"r","x":3.5,"y":0.83},{"r":4,"c":2,"s":"r","x":4.5,"y":0.87},{"r":4,"c":2,"s":"r","x":4.6,"y":0.92},
{"r":4,"c":3,"s":"b","x":-5,"f":0.007},{"r":4,"c":3,"s":"b","x":-4,"f":0.02},{"r":4,"c":3,"s":"b","x":-3,"f":0.057},{"r":4,"c":3,"s":"b","x":-2,"f":0.154},{"r":4,"c":3,"s":"b","x":-1,"f":0.354},{"r":4,"c":3,"s":"b","x":0,"f":0.622},{"r":4,"c":3,"s":"b","x":1,"f":0.832},{"r":4,"c":3,"s":"b","x":2,"f":0.937},{"r":4,"c":3,"s":"b","x":3,"f":0.978},{"r":4,"c":3,"s":"b","x":4,"f":0.993},{"r":4,"c":3,"s":"b","x":5,"f":0.998},
{"r":4,"c":3,"s":"r","x":-5,"f":0},{"r":4,"c":3,"s":"r","x":-4,"f":0},{"r":4,"c":3,"s":"r","x":-3,"f":0.001},{"r":4,"c":3,"s":"r","x":-2,"f":0.004},{"r":4,"c":3,"s":"r","x":-1,"f":0.011},{"r":4,"c":3,"s":"r","x":0,"f":0.032},{"r":4,"c":3,"s":"r","x":1,"f":0.09},{"r":4,"c":3,"s":"r","x":2,"f":0.23},{"r":4,"c":3,"s":"r","x":3,"f":0.473},{"r":4,"c":3,"s":"r","x":4,"f":0.729},{"r":4,"c":3,"s":"r","x":5,"f":0.89},
{"r":4,"c":3,"s":"b","x":-4.2,"y":0.05},{"r":4,"c":3,"s":"b","x":-3.95,"y":0.05},{"r":4,"c":3,"s":"b","x":-3.3,"y":0.05},{"r":4,"c":3,"s":"b","x":-2,"y":0.14},{"r":4,"c":3,"s":"b","x":-0.65,"y":0.44},{"r":4,"c":3,"s":"b","x":0.2,"y":0.61},{"r":4,"c":3,"s":"b","x":1.45,"y":0.85},{"r":4,"c":3,"s":"b","x":3.15,"y":0.97},{"r":4,"c":3,"s":"b","x":4.05,"y":0.99},
{"r":4,"c":3,"s":"r","x":-4.2,"y":0},{"r":4,"c":3,"s":"r","x":-4,"y":0},{"r":4,"c":3,"s":"r","x":-3.3,"y":0},{"r":4,"c":3,"s":"r","x":-1.7,"y":0.05},{"r":4,"c":3,"s":"r","x":-0.4,"y":0},{"r":4,"c":3,"s":"r","x":0.2,"y":0},{"r":4,"c":3,"s":"r","x":1.1,"y":0.18,"e":0.04},{"r":4,"c":3,"s":"r","x":3.25,"y":0.69},{"r":4,"c":3,"s":"r","x":4,"y":0.7},{"r":4,"c":3,"s":"r","x":4.2,"y":0.63},
{"r":5,"c":1,"s":"b","x":-5,"f":0.007},{"r":5,"c":1,"s":"b","x":-4,"f":0.02},{"r":5,"c":1,"s":"b","x":-3,"f":0.052},{"r":5,"c":1,"s":"b","x":-2,"f":0.13},{"r":5,"c":1,"s":"b","x":-1,"f":0.289},{"r":5,"c":1,"s":"b","x":0,"f":0.525},{"r":5,"c":1,"s":"b","x":1,"f":0.75},{"r":5,"c":1,"s":"b","x":2,"f":0.891},{"r":5,"c":1,"s":"b","x":3,"f":0.957},{"r":5,"c":1,"s":"b","x":4,"f":0.984},{"r":5,"c":1,"s":"b","x":5,"f":0.994},
{"r":5,"c":1,"s":"r","x":-5,"f":0.008},{"r":5,"c":1,"s":"r","x":-4,"f":0.022},{"r":5,"c":1,"s":"r","x":-3,"f":0.057},{"r":5,"c":1,"s":"r","x":-2,"f":0.142},{"r":5,"c":1,"s":"r","x":-1,"f":0.31},{"r":5,"c":1,"s":"r","x":0,"f":0.55},{"r":5,"c":1,"s":"r","x":1,"f":0.769},{"r":5,"c":1,"s":"r","x":2,"f":0.9},{"r":5,"c":1,"s":"r","x":3,"f":0.961},{"r":5,"c":1,"s":"r","x":4,"f":0.985},{"r":5,"c":1,"s":"r","x":5,"f":0.994},
{"r":5,"c":1,"s":"b","x":-4.1,"y":0.02},{"r":5,"c":1,"s":"b","x":-3.9,"y":0.03},{"r":5,"c":1,"s":"b","x":-3.3,"y":0.03},{"r":5,"c":1,"s":"b","x":-1.45,"y":0.25},{"r":5,"c":1,"s":"b","x":-0.7,"y":0.33},{"r":5,"c":1,"s":"b","x":0.1,"y":0.61},{"r":5,"c":1,"s":"b","x":0.95,"y":0.77},{"r":5,"c":1,"s":"b","x":3.35,"y":0.99},{"r":5,"c":1,"s":"b","x":4.1,"y":1},
{"r":5,"c":1,"s":"r","x":-4.1,"y":0.06},{"r":5,"c":1,"s":"r","x":-3.9,"y":0.04},{"r":5,"c":1,"s":"r","x":-3,"y":0},{"r":5,"c":1,"s":"r","x":-0.85,"y":0.31,"e":0.03},{"r":5,"c":1,"s":"r","x":-0.25,"y":0.36},{"r":5,"c":1,"s":"r","x":0.3,"y":0.79,"e":0.04},{"r":5,"c":1,"s":"r","x":1.4,"y":0.89},{"r":5,"c":1,"s":"r","x":3.35,"y":0.99},{"r":5,"c":1,"s":"r","x":4.2,"y":1},
{"r":5,"c":2,"s":"b","x":-5,"f":0.004},{"r":5,"c":2,"s":"b","x":-4,"f":0.013},{"r":5,"c":2,"s":"b","x":-3,"f":0.038},{"r":5,"c":2,"s":"b","x":-2,"f":0.105},{"r":5,"c":2,"s":"b","x":-1,"f":0.26},{"r":5,"c":2,"s":"b","x":0,"f":0.514},{"r":5,"c":2,"s":"b","x":1,"f":0.76},{"r":5,"c":2,"s":"b","x":2,"f":0.905},{"r":5,"c":2,"s":"b","x":3,"f":0.966},{"r":5,"c":2,"s":"b","x":4,"f":0.989},{"r":5,"c":2,"s":"b","x":5,"f":0.996},
{"r":5,"c":2,"s":"r","x":-5,"f":0.009},{"r":5,"c":2,"s":"r","x":-4,"f":0.025},{"r":5,"c":2,"s":"r","x":-3,"f":0.068},{"r":5,"c":2,"s":"r","x":-2,"f":0.171},{"r":5,"c":2,"s":"r","x":-1,"f":0.372},{"r":5,"c":2,"s":"r","x":0,"f":0.628},{"r":5,"c":2,"s":"r","x":1,"f":0.829},{"r":5,"c":2,"s":"r","x":2,"f":0.932},{"r":5,"c":2,"s":"r","x":3,"f":0.975},{"r":5,"c":2,"s":"r","x":4,"f":0.991},{"r":5,"c":2,"s":"r","x":5,"f":0.997},
{"r":5,"c":2,"s":"b","x":-3.65,"y":0.04},{"r":5,"c":2,"s":"b","x":-2.75,"y":0.07},{"r":5,"c":2,"s":"b","x":-0.95,"y":0.29},{"r":5,"c":2,"s":"b","x":-0.3,"y":0.39},{"r":5,"c":2,"s":"b","x":0.1,"y":0.6},{"r":5,"c":2,"s":"b","x":1,"y":0.79},{"r":5,"c":2,"s":"b","x":1.65,"y":0.91},{"r":5,"c":2,"s":"b","x":2.9,"y":1},{"r":5,"c":2,"s":"b","x":3.45,"y":0.99},
{"r":5,"c":2,"s":"r","x":-3.55,"y":0.12,"e":0.03},{"r":5,"c":2,"s":"r","x":-2.5,"y":0.14},{"r":5,"c":2,"s":"r","x":-0.9,"y":0.5,"e":0.04},{"r":5,"c":2,"s":"r","x":-0.3,"y":0.51,"e":0.04},{"r":5,"c":2,"s":"r","x":0.15,"y":0.7},{"r":5,"c":2,"s":"r","x":1.65,"y":0.92},{"r":5,"c":2,"s":"r","x":2.9,"y":1},
{"r":5,"c":3,"s":"b","x":-5,"f":0.007},{"r":5,"c":3,"s":"b","x":-4,"f":0.018},{"r":5,"c":3,"s":"b","x":-3,"f":0.047},{"r":5,"c":3,"s":"b","x":-2,"f":0.119},{"r":5,"c":3,"s":"b","x":-1,"f":0.269},{"r":5,"c":3,"s":"b","x":0,"f":0.5},{"r":5,"c":3,"s":"b","x":1,"f":0.731},{"r":5,"c":3,"s":"b","x":2,"f":0.881},{"r":5,"c":3,"s":"b","x":3,"f":0.953},{"r":5,"c":3,"s":"b","x":4,"f":0.982},{"r":5,"c":3,"s":"b","x":5,"f":0.993},
{"r":5,"c":3,"s":"r","x":-5,"f":0.027},{"r":5,"c":3,"s":"r","x":-4,"f":0.069},{"r":5,"c":3,"s":"r","x":-3,"f":0.168},{"r":5,"c":3,"s":"r","x":-2,"f":0.354},{"r":5,"c":3,"s":"r","x":-1,"f":0.599},{"r":5,"c":3,"s":"r","x":0,"f":0.802},{"r":5,"c":3,"s":"r","x":1,"f":0.917},{"r":5,"c":3,"s":"r","x":2,"f":0.968},{"r":5,"c":3,"s":"r","x":3,"f":0.988},{"r":5,"c":3,"s":"r","x":4,"f":0.995},{"r":5,"c":3,"s":"r","x":5,"f":0.998},
{"r":5,"c":3,"s":"b","x":-3.6,"y":0.03},{"r":5,"c":3,"s":"b","x":-2.85,"y":0.08},{"r":5,"c":3,"s":"b","x":-1.5,"y":0.2},{"r":5,"c":3,"s":"b","x":-0.4,"y":0.36},{"r":5,"c":3,"s":"b","x":0.1,"y":0.5},{"r":5,"c":3,"s":"b","x":1.05,"y":0.78},{"r":5,"c":3,"s":"b","x":2.45,"y":0.9},{"r":5,"c":3,"s":"b","x":3.5,"y":0.99},
{"r":5,"c":3,"s":"r","x":-3.65,"y":0.13,"e":0.03},{"r":5,"c":3,"s":"r","x":-2.85,"y":0.09},{"r":5,"c":3,"s":"r","x":-1.9,"y":0.32,"e":0.03},{"r":5,"c":3,"s":"r","x":-0.4,"y":0.69,"e":0.04},{"r":5,"c":3,"s":"r","x":0.05,"y":0.85},{"r":5,"c":3,"s":"r","x":1.35,"y":1},{"r":5,"c":3,"s":"r","x":2.8,"y":1},{"r":5,"c":3,"s":"r","x":3.65,"y":0.99},
{"r":6,"c":1,"s":"b","x":-5,"f":0.006},{"r":6,"c":1,"s":"b","x":-4,"f":0.017},{"r":6,"c":1,"s":"b","x":-3,"f":0.049},{"r":6,"c":1,"s":"b","x":-2,"f":0.134},{"r":6,"c":1,"s":"b","x":-1,"f":0.316},{"r":6,"c":1,"s":"b","x":0,"f":0.582},{"r":6,"c":1,"s":"b","x":1,"f":0.807},{"r":6,"c":1,"s":"b","x":2,"f":0.926},{"r":6,"c":1,"s":"b","x":3,"f":0.974},{"r":6,"c":1,"s":"b","x":4,"f":0.991},{"r":6,"c":1,"s":"b","x":5,"f":0.997},
{"r":6,"c":1,"s":"r","x":-5,"f":0.004},{"r":6,"c":1,"s":"r","x":-4,"f":0.01},{"r":6,"c":1,"s":"r","x":-3,"f":0.029},{"r":6,"c":1,"s":"r","x":-2,"f":0.078},{"r":6,"c":1,"s":"r","x":-1,"f":0.195},{"r":6,"c":1,"s":"r","x":0,"f":0.409},{"r":6,"c":1,"s":"r","x":1,"f":0.664},{"r":6,"c":1,"s":"r","x":2,"f":0.849},{"r":6,"c":1,"s":"r","x":3,"f":0.942},{"r":6,"c":1,"s":"r","x":4,"f":0.979},{"r":6,"c":1,"s":"r","x":5,"f":0.992},
{"r":6,"c":1,"s":"b","x":-2.95,"y":0.09},{"r":6,"c":1,"s":"b","x":-2.4,"y":0.11},{"r":6,"c":1,"s":"b","x":-0.9,"y":0.34},{"r":6,"c":1,"s":"b","x":-0.35,"y":0.48},{"r":6,"c":1,"s":"b","x":0.05,"y":0.57},{"r":6,"c":1,"s":"b","x":0.4,"y":0.72},{"r":6,"c":1,"s":"b","x":2.35,"y":0.96},{"r":6,"c":1,"s":"b","x":2.95,"y":0.97},
{"r":6,"c":1,"s":"r","x":-2.95,"y":0.03},{"r":6,"c":1,"s":"r","x":-2.8,"y":0.04},{"r":6,"c":1,"s":"r","x":-2.4,"y":0.09},{"r":6,"c":1,"s":"r","x":-1.5,"y":0.17,"e":0.03},{"r":6,"c":1,"s":"r","x":-0.3,"y":0.22,"e":0.03},{"r":6,"c":1,"s":"r","x":0.05,"y":0.47},{"r":6,"c":1,"s":"r","x":0.6,"y":0.54},{"r":6,"c":1,"s":"r","x":2.35,"y":0.94,"e":0.03},{"r":6,"c":1,"s":"r","x":2.8,"y":0.81},{"r":6,"c":1,"s":"r","x":2.95,"y":0.92},
{"r":6,"c":2,"s":"b","x":-5,"f":0.005},{"r":6,"c":2,"s":"b","x":-4,"f":0.013},{"r":6,"c":2,"s":"b","x":-3,"f":0.037},{"r":6,"c":2,"s":"b","x":-2,"f":0.12},{"r":6,"c":2,"s":"b","x":-1,"f":0.28},{"r":6,"c":2,"s":"b","x":0,"f":0.526},{"r":6,"c":2,"s":"b","x":1,"f":0.76},{"r":6,"c":2,"s":"b","x":2,"f":0.9},{"r":6,"c":2,"s":"b","x":3,"f":0.963},{"r":6,"c":2,"s":"b","x":4,"f":0.987},{"r":6,"c":2,"s":"b","x":5,"f":0.995},
{"r":6,"c":2,"s":"r","x":-5,"f":0.001},{"r":6,"c":2,"s":"r","x":-4,"f":0.003},{"r":6,"c":2,"s":"r","x":-3,"f":0.008},{"r":6,"c":2,"s":"r","x":-2,"f":0.021},{"r":6,"c":2,"s":"r","x":-1,"f":0.058},{"r":6,"c":2,"s":"r","x":0,"f":0.151},{"r":6,"c":2,"s":"r","x":1,"f":0.336},{"r":6,"c":2,"s":"r","x":2,"f":0.591},{"r":6,"c":2,"s":"r","x":3,"f":0.805},{"r":6,"c":2,"s":"r","x":4,"f":0.922},{"r":6,"c":2,"s":"r","x":5,"f":0.971},
{"r":6,"c":2,"s":"b","x":-3.4,"y":0.05},{"r":6,"c":2,"s":"b","x":-3.2,"y":0.04},{"r":6,"c":2,"s":"b","x":-2.45,"y":0.09},{"r":6,"c":2,"s":"b","x":-1,"y":0.26},{"r":6,"c":2,"s":"b","x":-0.1,"y":0.51},{"r":6,"c":2,"s":"b","x":0.15,"y":0.51},{"r":6,"c":2,"s":"b","x":1.1,"y":0.77},{"r":6,"c":2,"s":"b","x":2.55,"y":0.96},{"r":6,"c":2,"s":"b","x":3.35,"y":0.98},
{"r":6,"c":2,"s":"r","x":-3.25,"y":0.01},{"r":6,"c":2,"s":"r","x":-3.05,"y":0.01},{"r":6,"c":2,"s":"r","x":-2.15,"y":0.06},{"r":6,"c":2,"s":"r","x":-0.55,"y":0.13,"e":0.03},{"r":6,"c":2,"s":"r","x":-0.1,"y":0.04},{"r":6,"c":2,"s":"r","x":0.2,"y":0.09},{"r":6,"c":2,"s":"r","x":1.65,"y":0.52,"e":0.04},{"r":6,"c":2,"s":"r","x":2.65,"y":0.84},{"r":6,"c":2,"s":"r","x":3.3,"y":0.76},{"r":6,"c":2,"s":"r","x":3.45,"y":0.78},
{"r":6,"c":3,"s":"b","x":-5,"f":0.004},{"r":6,"c":3,"s":"b","x":-4,"f":0.014},{"r":6,"c":3,"s":"b","x":-3,"f":0.043},{"r":6,"c":3,"s":"b","x":-2,"f":0.124},{"r":6,"c":3,"s":"b","x":-1,"f":0.309},{"r":6,"c":3,"s":"b","x":0,"f":0.585},{"r":6,"c":3,"s":"b","x":1,"f":0.817},{"r":6,"c":3,"s":"b","x":2,"f":0.934},{"r":6,"c":3,"s":"b","x":3,"f":0.978},{"r":6,"c":3,"s":"b","x":4,"f":0.993},{"r":6,"c":3,"s":"b","x":5,"f":0.998},
{"r":6,"c":3,"s":"r","x":-5,"f":0.001},{"r":6,"c":3,"s":"r","x":-4,"f":0.002},{"r":6,"c":3,"s":"r","x":-3,"f":0.004},{"r":6,"c":3,"s":"r","x":-2,"f":0.013},{"r":6,"c":3,"s":"r","x":-1,"f":0.035},{"r":6,"c":3,"s":"r","x":0,"f":0.094},{"r":6,"c":3,"s":"r","x":1,"f":0.23},{"r":6,"c":3,"s":"r","x":2,"f":0.46},{"r":6,"c":3,"s":"r","x":3,"f":0.709},{"r":6,"c":3,"s":"r","x":4,"f":0.874},{"r":6,"c":3,"s":"r","x":5,"f":0.952},
{"r":6,"c":3,"s":"b","x":-3.8,"y":0.04},{"r":6,"c":3,"s":"b","x":-3.15,"y":0.05},{"r":6,"c":3,"s":"b","x":-1.1,"y":0.32},{"r":6,"c":3,"s":"b","x":-0.15,"y":0.54},{"r":6,"c":3,"s":"b","x":0.2,"y":0.61},{"r":6,"c":3,"s":"b","x":1.2,"y":0.81},{"r":6,"c":3,"s":"b","x":3.1,"y":0.99},{"r":6,"c":3,"s":"b","x":3.75,"y":1},
{"r":6,"c":3,"s":"r","x":-3.8,"y":0},{"r":6,"c":3,"s":"r","x":-3.1,"y":0},{"r":6,"c":3,"s":"r","x":-1.5,"y":0.14,"e":0.04},{"r":6,"c":3,"s":"r","x":-0.1,"y":0.07},{"r":6,"c":3,"s":"r","x":0.25,"y":0.12},{"r":6,"c":3,"s":"r","x":0.5,"y":0.12},{"r":6,"c":3,"s":"r","x":1.9,"y":0.54,"e":0.04},{"r":6,"c":3,"s":"r","x":3.7,"y":0.78},{"r":6,"c":3,"s":"r","x":3.85,"y":0.81}
]
},
"spacing":72,
"hconcat":[
{
"data":{"name":"left"},
"spacing":{"row":55,"column":58.6},
"bounds":"flush",
"resolve":{"axis":{"x":"independent","y":"independent"}},
"facet":{
"row":{"field":"r","type":"ordinal","title":null,"header":{"labelExpr":"'p(L choice)'","labelAngle":-90,"labelOrient":"left","labelFontSize":17,"labelPadding":45,"labelAlign":"center"}},
"column":{"field":"c","type":"ordinal","title":null,"header":{"labelExpr":"datum.value == 1 ? ['5 Hz', '(3 pulses)'] : datum.value == 2 ? ['10 Hz', '(5 pulses)'] : ['20 Hz', '(10 pulses)']","labelFontSize":17,"labelFontWeight":"bold","labelLineHeight":27,"labelPadding":62}}
},
"spec":{
"width":128,"height":115,
"layer":[
{"transform":[{"filter":"isValid(datum.f) && datum.x == 0 && datum.s == 'b'"}],"mark":{"type":"rule","color":"#111","strokeWidth":1.6},"encoding":{"x":{"datum":-5,"type":"quantitative","title":null,"scale":{"domain":[-5,5],"nice":false,"zero":false},"axis":{"title":null,"values":[-5,0,5],"labelPadding":4,"labelExpr":"'' + datum.value"}},"x2":{"datum":5},"y":{"datum":0.5,"type":"quantitative","title":null,"scale":{"domain":[0,1],"nice":false},"axis":{"title":null,"values":[0,0.5,1],"labelExpr":"'' + datum.value"}}}},
{"transform":[{"filter":"isValid(datum.f) && datum.x == 0 && datum.s == 'b'"}],"mark":{"type":"rule","color":"#111","strokeWidth":1.6},"encoding":{"x":{"datum":0,"type":"quantitative","title":null,"scale":{"domain":[-5,5],"nice":false,"zero":false}},"y":{"datum":0,"type":"quantitative","title":null,"scale":{"domain":[0,1],"nice":false}},"y2":{"datum":1}}},
{"transform":[{"filter":"isValid(datum.f)"}],"mark":{"type":"line","interpolate":"monotone","strokeWidth":1.1},"encoding":{"x":{"field":"x","type":"quantitative","title":null,"scale":{"domain":[-5,5],"nice":false,"zero":false}},"y":{"field":"f","type":"quantitative","title":null,"scale":{"domain":[0,1],"nice":false}},"stroke":{"field":"s","type":"nominal","scale":{"domain":["b","r"],"range":["#6f82d4","#ff5a5a"]},"legend":null}}},
{"transform":[{"filter":"datum.e > 0"}],"mark":{"type":"errorbar","ticks":false,"thickness":1.3},"encoding":{"x":{"field":"x","type":"quantitative","title":null,"scale":{"domain":[-5,5],"nice":false,"zero":false}},"y":{"field":"y","type":"quantitative","title":null,"scale":{"domain":[0,1],"nice":false}},"yError":{"field":"e"},"color":{"field":"s","type":"nominal","scale":{"domain":["b","r"],"range":["#3a54b4","#f02222"]},"legend":null}}},
{"transform":[{"filter":"isValid(datum.y)"}],"mark":{"type":"point","filled":true,"size":28,"opacity":1},"encoding":{"x":{"field":"x","type":"quantitative","title":null,"scale":{"domain":[-5,5],"nice":false,"zero":false}},"y":{"field":"y","type":"quantitative","title":null,"scale":{"domain":[0,1],"nice":false}},"color":{"field":"s","type":"nominal","scale":{"domain":["b","r"],"range":["#3a54b4","#f02222"]},"legend":null}}},
{"transform":[{"filter":"isValid(datum.n) && datum.c == 1"}],"mark":{"type":"text","align":"left","baseline":"alphabetic","dx":-3,"dy":-4,"fontSize":17},"encoding":{"x":{"datum":-5,"type":"quantitative","title":null,"scale":{"domain":[-5,5],"nice":false,"zero":false}},"y":{"datum":1,"type":"quantitative","title":null,"scale":{"domain":[0,1],"nice":false}},"text":{"field":"n"}}},
{"transform":[{"filter":"isValid(datum.n) && datum.c == 2"}],"mark":{"type":"text","align":"center","baseline":"alphabetic","dy":-4,"fontSize":17},"encoding":{"x":{"datum":0,"type":"quantitative","title":null,"scale":{"domain":[-5,5],"nice":false,"zero":false}},"y":{"datum":1,"type":"quantitative","title":null,"scale":{"domain":[0,1],"nice":false}},"text":{"field":"n"}}},
{"transform":[{"filter":"isValid(datum.a)"}],"mark":{"type":"text","align":"center","baseline":"middle","dy":37,"fontSize":17},"encoding":{"x":{"datum":0,"type":"quantitative","title":null,"scale":{"domain":[-5,5],"nice":false,"zero":false}},"y":{"datum":0,"type":"quantitative","title":null,"scale":{"domain":[0,1],"nice":false}},"text":{"field":"a"}}}
]
}
},
{
"data":{"name":"right"},
"spacing":{"row":56.5,"column":58.6},
"bounds":"flush",
"resolve":{"axis":{"x":"independent","y":"independent"}},
"facet":{
"row":{"field":"r","type":"ordinal","title":null,"header":null},
"column":{"field":"c","type":"ordinal","title":null,"header":{"labelExpr":"datum.value == 1 ? ['5 Hz', '(3 pulses)'] : datum.value == 2 ? ['10 Hz', '(5 pulses)'] : ['20 Hz', '(10 pulses)']","labelFontSize":17,"labelFontWeight":"bold","labelLineHeight":27,"labelPadding":62}}
},
"spec":{
"width":128,"height":115,
"layer":[
{"transform":[{"filter":"isValid(datum.f) && datum.x == 0 && datum.s == 'b'"}],"mark":{"type":"rule","color":"#111","strokeWidth":1.6},"encoding":{"x":{"datum":-5,"type":"quantitative","title":null,"scale":{"domain":[-5,5],"nice":false,"zero":false},"axis":{"title":null,"values":[-5,0,5],"labelPadding":4,"labelExpr":"'' + datum.value"}},"x2":{"datum":5},"y":{"datum":0.5,"type":"quantitative","title":null,"scale":{"domain":[0,1],"nice":false},"axis":{"title":null,"values":[0,0.5,1],"labelExpr":"'' + datum.value"}}}},
{"transform":[{"filter":"isValid(datum.f) && datum.x == 0 && datum.s == 'b'"}],"mark":{"type":"rule","color":"#111","strokeWidth":1.6},"encoding":{"x":{"datum":0,"type":"quantitative","title":null,"scale":{"domain":[-5,5],"nice":false,"zero":false}},"y":{"datum":0,"type":"quantitative","title":null,"scale":{"domain":[0,1],"nice":false}},"y2":{"datum":1}}},
{"transform":[{"filter":"isValid(datum.f)"}],"mark":{"type":"line","interpolate":"monotone","strokeWidth":1.1},"encoding":{"x":{"field":"x","type":"quantitative","title":null,"scale":{"domain":[-5,5],"nice":false,"zero":false}},"y":{"field":"f","type":"quantitative","title":null,"scale":{"domain":[0,1],"nice":false}},"stroke":{"field":"s","type":"nominal","scale":{"domain":["b","r"],"range":["#6f82d4","#ff5a5a"]},"legend":null}}},
{"transform":[{"filter":"datum.e > 0"}],"mark":{"type":"errorbar","ticks":false,"thickness":1.3},"encoding":{"x":{"field":"x","type":"quantitative","title":null,"scale":{"domain":[-5,5],"nice":false,"zero":false}},"y":{"field":"y","type":"quantitative","title":null,"scale":{"domain":[0,1],"nice":false}},"yError":{"field":"e"},"color":{"field":"s","type":"nominal","scale":{"domain":["b","r"],"range":["#3a54b4","#f02222"]},"legend":null}}},
{"transform":[{"filter":"isValid(datum.y)"}],"mark":{"type":"point","filled":true,"size":28,"opacity":1},"encoding":{"x":{"field":"x","type":"quantitative","title":null,"scale":{"domain":[-5,5],"nice":false,"zero":false}},"y":{"field":"y","type":"quantitative","title":null,"scale":{"domain":[0,1],"nice":false}},"color":{"field":"s","type":"nominal","scale":{"domain":["b","r"],"range":["#3a54b4","#f02222"]},"legend":null}}},
{"transform":[{"filter":"isValid(datum.n) && datum.c == 1"}],"mark":{"type":"text","align":"left","baseline":"alphabetic","dx":-3,"dy":-4,"fontSize":17},"encoding":{"x":{"datum":-5,"type":"quantitative","title":null,"scale":{"domain":[-5,5],"nice":false,"zero":false}},"y":{"datum":1,"type":"quantitative","title":null,"scale":{"domain":[0,1],"nice":false}},"text":{"field":"n"}}},
{"transform":[{"filter":"isValid(datum.n) && datum.c == 2"}],"mark":{"type":"text","align":"center","baseline":"alphabetic","dy":-4,"fontSize":17},"encoding":{"x":{"datum":0,"type":"quantitative","title":null,"scale":{"domain":[-5,5],"nice":false,"zero":false}},"y":{"datum":1,"type":"quantitative","title":null,"scale":{"domain":[0,1],"nice":false}},"text":{"field":"n"}}},
{"transform":[{"filter":"isValid(datum.a)"}],"mark":{"type":"text","align":"center","baseline":"middle","dy":41,"fontSize":17},"encoding":{"x":{"datum":0,"type":"quantitative","title":null,"scale":{"domain":[-5,5],"nice":false,"zero":false}},"y":{"datum":0,"type":"quantitative","title":null,"scale":{"domain":[0,1],"nice":false}},"text":{"field":"a"}}}
]
}
}
]
}
